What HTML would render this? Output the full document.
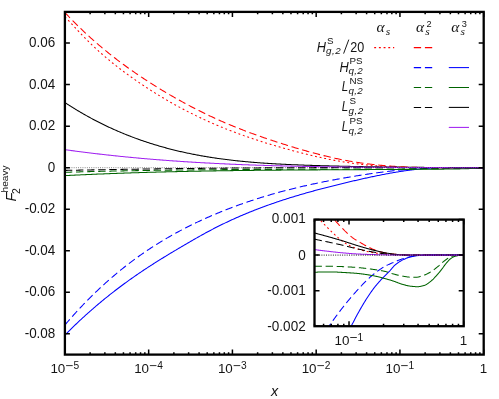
<!DOCTYPE html>
<html>
<head>
<meta charset="utf-8">
<title>F2 heavy</title>
<style>
html,body{margin:0;padding:0;background:#fff;}
body{width:499px;height:399px;overflow:hidden;position:relative;}
svg{display:block;position:absolute;left:0;top:0;}
svg.txt{will-change:transform;transform:translateZ(0);background:transparent;}
svg text{font-family:"Liberation Sans",sans-serif;fill:#141414;}
</style>
</head>
<body>
<svg width="499" height="399" viewBox="0 0 499 399">
<rect x="0" y="0" width="499" height="399" fill="#ffffff"/>
<defs>
<clipPath id="cm"><rect x="64.90" y="11.90" width="418.80" height="342.70"/></clipPath>
<clipPath id="ci"><rect x="314.50" y="219.60" width="149.20" height="106.60"/></clipPath>
</defs>
<!-- main curves -->
<g clip-path="url(#cm)" fill="none" stroke-width="1.05" stroke-linejoin="round">
<path d="M64.90 16.71 L65.90 17.76 L66.90 18.82 L67.90 19.89 L68.90 20.96 L69.90 22.03 L70.90 23.10 L71.90 24.18 L72.90 25.25 L73.90 26.33 L74.90 27.40 L75.89 28.47 L76.89 29.54 L77.89 30.61 L78.89 31.67 L79.89 32.73 L80.89 33.78 L81.89 34.83 L82.89 35.86 L83.89 36.90 L84.89 37.92 L85.89 38.93 L86.89 39.94 L87.89 40.93 L88.89 41.92 L89.89 42.90 L90.89 43.87 L91.89 44.83 L92.89 45.78 L93.89 46.73 L94.89 47.66 L95.89 48.59 L96.88 49.51 L97.88 50.42 L98.88 51.33 L99.88 52.23 L100.88 53.12 L101.88 54.00 L102.88 54.87 L103.88 55.74 L104.88 56.60 L105.88 57.45 L106.88 58.30 L107.88 59.14 L108.88 59.97 L109.88 60.80 L110.88 61.62 L111.88 62.43 L112.88 63.24 L113.88 64.04 L114.88 64.84 L115.88 65.63 L116.88 66.41 L117.87 67.19 L118.87 67.96 L119.87 68.73 L120.87 69.49 L121.87 70.25 L122.87 71.00 L123.87 71.75 L124.87 72.49 L125.87 73.22 L126.87 73.96 L127.87 74.68 L128.87 75.41 L129.87 76.13 L130.87 76.84 L131.87 77.55 L132.87 78.26 L133.87 78.96 L134.87 79.66 L135.87 80.35 L136.87 81.04 L137.87 81.73 L138.86 82.42 L139.86 83.10 L140.86 83.77 L141.86 84.45 L142.86 85.11 L143.86 85.78 L144.86 86.44 L145.86 87.10 L146.86 87.76 L147.86 88.41 L148.86 89.06 L149.86 89.70 L150.86 90.34 L151.86 90.98 L152.86 91.61 L153.86 92.24 L154.86 92.87 L155.86 93.49 L156.86 94.11 L157.86 94.73 L158.86 95.34 L159.85 95.95 L160.85 96.55 L161.85 97.16 L162.85 97.75 L163.85 98.35 L164.85 98.94 L165.85 99.53 L166.85 100.11 L167.85 100.70 L168.85 101.27 L169.85 101.85 L170.85 102.42 L171.85 102.99 L172.85 103.55 L173.85 104.11 L174.85 104.67 L175.85 105.23 L176.85 105.78 L177.85 106.32 L178.85 106.87 L179.85 107.41 L180.84 107.95 L181.84 108.48 L182.84 109.01 L183.84 109.54 L184.84 110.07 L185.84 110.59 L186.84 111.11 L187.84 111.62 L188.84 112.13 L189.84 112.64 L190.84 113.15 L191.84 113.65 L192.84 114.15 L193.84 114.64 L194.84 115.13 L195.84 115.62 L196.84 116.11 L197.84 116.59 L198.84 117.07 L199.84 117.55 L200.84 118.02 L201.83 118.49 L202.83 118.96 L203.83 119.42 L204.83 119.88 L205.83 120.34 L206.83 120.80 L207.83 121.25 L208.83 121.70 L209.83 122.14 L210.83 122.58 L211.83 123.02 L212.83 123.46 L213.83 123.89 L214.83 124.32 L215.83 124.75 L216.83 125.18 L217.83 125.60 L218.83 126.02 L219.83 126.43 L220.83 126.85 L221.83 127.26 L222.82 127.66 L223.82 128.07 L224.82 128.47 L225.82 128.87 L226.82 129.27 L227.82 129.66 L228.82 130.05 L229.82 130.44 L230.82 130.83 L231.82 131.21 L232.82 131.59 L233.82 131.97 L234.82 132.34 L235.82 132.72 L236.82 133.09 L237.82 133.46 L238.82 133.82 L239.82 134.19 L240.82 134.55 L241.82 134.91 L242.82 135.26 L243.81 135.62 L244.81 135.97 L245.81 136.32 L246.81 136.67 L247.81 137.01 L248.81 137.36 L249.81 137.70 L250.81 138.04 L251.81 138.37 L252.81 138.71 L253.81 139.04 L254.81 139.37 L255.81 139.70 L256.81 140.03 L257.81 140.35 L258.81 140.68 L259.81 141.00 L260.81 141.32 L261.81 141.63 L262.81 141.95 L263.81 142.26 L264.80 142.58 L265.80 142.89 L266.80 143.19 L267.80 143.50 L268.80 143.81 L269.80 144.11 L270.80 144.41 L271.80 144.71 L272.80 145.01 L273.80 145.31 L274.80 145.60 L275.80 145.89 L276.80 146.19 L277.80 146.48 L278.80 146.77 L279.80 147.06 L280.80 147.34 L281.80 147.63 L282.80 147.91 L283.80 148.19 L284.79 148.47 L285.79 148.75 L286.79 149.03 L287.79 149.31 L288.79 149.58 L289.79 149.86 L290.79 150.13 L291.79 150.40 L292.79 150.67 L293.79 150.94 L294.79 151.21 L295.79 151.47 L296.79 151.74 L297.79 152.00 L298.79 152.26 L299.79 152.52 L300.79 152.78 L301.79 153.03 L302.79 153.29 L303.79 153.54 L304.79 153.79 L305.78 154.04 L306.78 154.29 L307.78 154.53 L308.78 154.77 L309.78 155.02 L310.78 155.26 L311.78 155.49 L312.78 155.73 L313.78 155.96 L314.78 156.19 L315.78 156.42 L316.78 156.65 L317.78 156.88 L318.78 157.10 L319.78 157.32 L320.78 157.54 L321.78 157.76 L322.78 157.97 L323.78 158.19 L324.78 158.40 L325.78 158.61 L326.77 158.81 L327.77 159.02 L328.77 159.22 L329.77 159.42 L330.77 159.61 L331.77 159.81 L332.77 160.00 L333.77 160.19 L334.77 160.38 L335.77 160.56 L336.77 160.74 L337.77 160.92 L338.77 161.10 L339.77 161.27 L340.77 161.44 L341.77 161.61 L342.77 161.78 L343.77 161.94 L344.77 162.10 L345.77 162.26 L346.77 162.42 L347.76 162.57 L348.76 162.72 L349.76 162.87 L350.76 163.01 L351.76 163.15 L352.76 163.29 L353.76 163.43 L354.76 163.56 L355.76 163.69 L356.76 163.82 L357.76 163.94 L358.76 164.06 L359.76 164.18 L360.76 164.30 L361.76 164.41 L362.76 164.53 L363.76 164.63 L364.76 164.74 L365.76 164.85 L366.76 164.95 L367.76 165.05 L368.75 165.14 L369.75 165.24 L370.75 165.33 L371.75 165.42 L372.75 165.51 L373.75 165.60 L374.75 165.68 L375.75 165.76 L376.75 165.84 L377.75 165.92 L378.75 165.99 L379.75 166.06 L380.75 166.13 L381.75 166.20 L382.75 166.27 L383.75 166.34 L384.75 166.40 L385.75 166.46 L386.75 166.52 L387.75 166.58 L388.75 166.63 L389.74 166.69 L390.74 166.74 L391.74 166.79 L392.74 166.84 L393.74 166.88 L394.74 166.93 L395.74 166.97 L396.74 167.01 L397.74 167.06 L398.74 167.09 L399.74 167.13 L400.74 167.17 L401.74 167.20 L402.74 167.24 L403.74 167.27 L404.74 167.30 L405.74 167.33 L406.74 167.35 L407.74 167.38 L408.74 167.41 L409.74 167.43 L410.73 167.45 L411.73 167.47 L412.73 167.49 L413.73 167.51 L414.73 167.53 L415.73 167.55 L416.73 167.57 L417.73 167.58 L418.73 167.59 L419.73 167.61 L420.73 167.62 L421.73 167.63 L422.73 167.64 L423.73 167.65 L424.73 167.66 L425.73 167.67 L426.73 167.68 L427.73 167.68 L428.73 167.69 L429.73 167.69 L430.73 167.70 L431.72 167.70 L432.72 167.71 L433.72 167.71 L434.72 167.71 L435.72 167.71 L436.72 167.71 L437.72 167.71 L438.72 167.72 L439.72 167.72 L440.72 167.72 L441.72 167.71 L442.72 167.71 L443.72 167.71 L444.72 167.71 L445.72 167.71 L446.72 167.71 L447.72 167.71 L448.72 167.70 L449.72 167.70 L450.72 167.70 L451.72 167.70 L452.71 167.69 L453.71 167.69 L454.71 167.69 L455.71 167.69 L456.71 167.68 L457.71 167.68 L458.71 167.68 L459.71 167.68 L460.71 167.68 L461.71 167.67 L462.71 167.67 L463.71 167.67 L464.71 167.67 L465.71 167.67 L466.71 167.67 L467.71 167.67 L468.71 167.67 L469.71 167.67 L470.71 167.68 L471.71 167.68 L472.71 167.68 L473.70 167.68 L474.70 167.69 L475.70 167.69 L476.70 167.70 L477.70 167.70 L478.70 167.71 L479.70 167.72 L480.70 167.73 L481.70 167.73 L482.70 167.74 L483.70 167.75" stroke="#ff0000" stroke-dasharray="1.9 2.8"/>
<path d="M64.90 12.54 L65.90 13.60 L66.90 14.66 L67.90 15.71 L68.90 16.75 L69.90 17.79 L70.90 18.82 L71.90 19.84 L72.90 20.86 L73.90 21.87 L74.90 22.87 L75.89 23.86 L76.89 24.85 L77.89 25.83 L78.89 26.81 L79.89 27.78 L80.89 28.74 L81.89 29.70 L82.89 30.65 L83.89 31.59 L84.89 32.53 L85.89 33.46 L86.89 34.38 L87.89 35.30 L88.89 36.22 L89.89 37.12 L90.89 38.02 L91.89 38.92 L92.89 39.81 L93.89 40.69 L94.89 41.57 L95.89 42.44 L96.88 43.31 L97.88 44.17 L98.88 45.03 L99.88 45.88 L100.88 46.72 L101.88 47.56 L102.88 48.40 L103.88 49.23 L104.88 50.05 L105.88 50.87 L106.88 51.68 L107.88 52.49 L108.88 53.29 L109.88 54.09 L110.88 54.89 L111.88 55.68 L112.88 56.46 L113.88 57.24 L114.88 58.02 L115.88 58.79 L116.88 59.55 L117.87 60.32 L118.87 61.07 L119.87 61.83 L120.87 62.57 L121.87 63.32 L122.87 64.06 L123.87 64.79 L124.87 65.53 L125.87 66.25 L126.87 66.98 L127.87 67.70 L128.87 68.41 L129.87 69.13 L130.87 69.83 L131.87 70.54 L132.87 71.24 L133.87 71.94 L134.87 72.63 L135.87 73.32 L136.87 74.01 L137.87 74.69 L138.86 75.37 L139.86 76.05 L140.86 76.72 L141.86 77.39 L142.86 78.05 L143.86 78.72 L144.86 79.38 L145.86 80.03 L146.86 80.68 L147.86 81.33 L148.86 81.98 L149.86 82.62 L150.86 83.26 L151.86 83.90 L152.86 84.53 L153.86 85.16 L154.86 85.79 L155.86 86.41 L156.86 87.03 L157.86 87.65 L158.86 88.27 L159.85 88.88 L160.85 89.49 L161.85 90.09 L162.85 90.69 L163.85 91.29 L164.85 91.89 L165.85 92.48 L166.85 93.08 L167.85 93.66 L168.85 94.25 L169.85 94.83 L170.85 95.41 L171.85 95.99 L172.85 96.56 L173.85 97.13 L174.85 97.70 L175.85 98.26 L176.85 98.83 L177.85 99.39 L178.85 99.94 L179.85 100.50 L180.84 101.05 L181.84 101.60 L182.84 102.15 L183.84 102.69 L184.84 103.23 L185.84 103.77 L186.84 104.31 L187.84 104.84 L188.84 105.38 L189.84 105.90 L190.84 106.43 L191.84 106.95 L192.84 107.47 L193.84 107.99 L194.84 108.51 L195.84 109.02 L196.84 109.53 L197.84 110.04 L198.84 110.54 L199.84 111.05 L200.84 111.54 L201.83 112.04 L202.83 112.53 L203.83 113.02 L204.83 113.51 L205.83 114.00 L206.83 114.48 L207.83 114.96 L208.83 115.43 L209.83 115.91 L210.83 116.38 L211.83 116.84 L212.83 117.31 L213.83 117.77 L214.83 118.23 L215.83 118.68 L216.83 119.14 L217.83 119.59 L218.83 120.03 L219.83 120.48 L220.83 120.92 L221.83 121.36 L222.82 121.79 L223.82 122.23 L224.82 122.66 L225.82 123.09 L226.82 123.51 L227.82 123.93 L228.82 124.36 L229.82 124.77 L230.82 125.19 L231.82 125.60 L232.82 126.01 L233.82 126.42 L234.82 126.83 L235.82 127.23 L236.82 127.63 L237.82 128.03 L238.82 128.43 L239.82 128.82 L240.82 129.21 L241.82 129.60 L242.82 129.99 L243.81 130.37 L244.81 130.76 L245.81 131.14 L246.81 131.52 L247.81 131.89 L248.81 132.27 L249.81 132.64 L250.81 133.01 L251.81 133.38 L252.81 133.74 L253.81 134.11 L254.81 134.47 L255.81 134.83 L256.81 135.19 L257.81 135.55 L258.81 135.90 L259.81 136.25 L260.81 136.61 L261.81 136.96 L262.81 137.30 L263.81 137.65 L264.80 137.99 L265.80 138.34 L266.80 138.68 L267.80 139.02 L268.80 139.35 L269.80 139.69 L270.80 140.03 L271.80 140.36 L272.80 140.69 L273.80 141.02 L274.80 141.35 L275.80 141.68 L276.80 142.00 L277.80 142.33 L278.80 142.65 L279.80 142.97 L280.80 143.29 L281.80 143.61 L282.80 143.93 L283.80 144.24 L284.79 144.56 L285.79 144.87 L286.79 145.18 L287.79 145.50 L288.79 145.81 L289.79 146.11 L290.79 146.42 L291.79 146.73 L292.79 147.03 L293.79 147.34 L294.79 147.64 L295.79 147.94 L296.79 148.24 L297.79 148.53 L298.79 148.83 L299.79 149.12 L300.79 149.42 L301.79 149.71 L302.79 150.00 L303.79 150.28 L304.79 150.57 L305.78 150.85 L306.78 151.13 L307.78 151.41 L308.78 151.69 L309.78 151.97 L310.78 152.24 L311.78 152.52 L312.78 152.79 L313.78 153.06 L314.78 153.32 L315.78 153.59 L316.78 153.85 L317.78 154.11 L318.78 154.37 L319.78 154.62 L320.78 154.88 L321.78 155.13 L322.78 155.38 L323.78 155.63 L324.78 155.87 L325.78 156.11 L326.77 156.35 L327.77 156.59 L328.77 156.83 L329.77 157.06 L330.77 157.29 L331.77 157.52 L332.77 157.74 L333.77 157.96 L334.77 158.18 L335.77 158.40 L336.77 158.62 L337.77 158.83 L338.77 159.04 L339.77 159.25 L340.77 159.45 L341.77 159.65 L342.77 159.85 L343.77 160.04 L344.77 160.24 L345.77 160.43 L346.77 160.61 L347.76 160.80 L348.76 160.98 L349.76 161.16 L350.76 161.33 L351.76 161.50 L352.76 161.67 L353.76 161.84 L354.76 162.00 L355.76 162.16 L356.76 162.32 L357.76 162.47 L358.76 162.62 L359.76 162.77 L360.76 162.91 L361.76 163.06 L362.76 163.20 L363.76 163.33 L364.76 163.47 L365.76 163.60 L366.76 163.73 L367.76 163.86 L368.75 163.98 L369.75 164.10 L370.75 164.22 L371.75 164.34 L372.75 164.45 L373.75 164.56 L374.75 164.67 L375.75 164.78 L376.75 164.88 L377.75 164.98 L378.75 165.08 L379.75 165.18 L380.75 165.27 L381.75 165.37 L382.75 165.46 L383.75 165.55 L384.75 165.63 L385.75 165.72 L386.75 165.80 L387.75 165.88 L388.75 165.95 L389.74 166.03 L390.74 166.10 L391.74 166.17 L392.74 166.24 L393.74 166.31 L394.74 166.38 L395.74 166.44 L396.74 166.50 L397.74 166.56 L398.74 166.62 L399.74 166.68 L400.74 166.73 L401.74 166.78 L402.74 166.83 L403.74 166.88 L404.74 166.93 L405.74 166.98 L406.74 167.02 L407.74 167.06 L408.74 167.11 L409.74 167.14 L410.73 167.18 L411.73 167.22 L412.73 167.25 L413.73 167.29 L414.73 167.32 L415.73 167.35 L416.73 167.38 L417.73 167.41 L418.73 167.44 L419.73 167.46 L420.73 167.49 L421.73 167.51 L422.73 167.53 L423.73 167.55 L424.73 167.57 L425.73 167.59 L426.73 167.61 L427.73 167.63 L428.73 167.64 L429.73 167.66 L430.73 167.67 L431.72 167.68 L432.72 167.69 L433.72 167.70 L434.72 167.71 L435.72 167.72 L436.72 167.73 L437.72 167.74 L438.72 167.74 L439.72 167.75 L440.72 167.75 L441.72 167.76 L442.72 167.76 L443.72 167.76 L444.72 167.76 L445.72 167.77 L446.72 167.77 L447.72 167.77 L448.72 167.77 L449.72 167.77 L450.72 167.77 L451.72 167.76 L452.71 167.76 L453.71 167.76 L454.71 167.76 L455.71 167.75 L456.71 167.75 L457.71 167.75 L458.71 167.74 L459.71 167.74 L460.71 167.73 L461.71 167.73 L462.71 167.72 L463.71 167.72 L464.71 167.71 L465.71 167.71 L466.71 167.70 L467.71 167.70 L468.71 167.69 L469.71 167.69 L470.71 167.68 L471.71 167.68 L472.71 167.67 L473.70 167.67 L474.70 167.66 L475.70 167.66 L476.70 167.65 L477.70 167.65 L478.70 167.64 L479.70 167.64 L480.70 167.63 L481.70 167.63 L482.70 167.63 L483.70 167.63" stroke="#ff0000" stroke-dasharray="7.4 3.7"/>
<path d="M64.90 324.96 L65.90 323.79 L66.90 322.63 L67.90 321.47 L68.90 320.32 L69.90 319.18 L70.90 318.05 L71.90 316.93 L72.90 315.81 L73.90 314.70 L74.90 313.59 L75.89 312.50 L76.89 311.40 L77.89 310.32 L78.89 309.25 L79.89 308.18 L80.89 307.11 L81.89 306.06 L82.89 305.01 L83.89 303.97 L84.89 302.93 L85.89 301.91 L86.89 300.88 L87.89 299.87 L88.89 298.86 L89.89 297.86 L90.89 296.87 L91.89 295.88 L92.89 294.90 L93.89 293.92 L94.89 292.95 L95.89 291.99 L96.88 291.03 L97.88 290.08 L98.88 289.14 L99.88 288.20 L100.88 287.27 L101.88 286.35 L102.88 285.43 L103.88 284.52 L104.88 283.61 L105.88 282.72 L106.88 281.82 L107.88 280.93 L108.88 280.05 L109.88 279.18 L110.88 278.31 L111.88 277.44 L112.88 276.59 L113.88 275.74 L114.88 274.89 L115.88 274.05 L116.88 273.21 L117.87 272.39 L118.87 271.56 L119.87 270.75 L120.87 269.93 L121.87 269.13 L122.87 268.33 L123.87 267.53 L124.87 266.74 L125.87 265.96 L126.87 265.18 L127.87 264.41 L128.87 263.64 L129.87 262.88 L130.87 262.12 L131.87 261.37 L132.87 260.63 L133.87 259.88 L134.87 259.15 L135.87 258.42 L136.87 257.69 L137.87 256.97 L138.86 256.26 L139.86 255.55 L140.86 254.84 L141.86 254.14 L142.86 253.45 L143.86 252.76 L144.86 252.07 L145.86 251.39 L146.86 250.71 L147.86 250.04 L148.86 249.38 L149.86 248.71 L150.86 248.06 L151.86 247.41 L152.86 246.76 L153.86 246.11 L154.86 245.48 L155.86 244.84 L156.86 244.21 L157.86 243.59 L158.86 242.97 L159.85 242.35 L160.85 241.74 L161.85 241.13 L162.85 240.53 L163.85 239.93 L164.85 239.34 L165.85 238.74 L166.85 238.16 L167.85 237.58 L168.85 237.00 L169.85 236.43 L170.85 235.86 L171.85 235.29 L172.85 234.73 L173.85 234.17 L174.85 233.62 L175.85 233.07 L176.85 232.52 L177.85 231.98 L178.85 231.44 L179.85 230.90 L180.84 230.37 L181.84 229.85 L182.84 229.32 L183.84 228.80 L184.84 228.29 L185.84 227.77 L186.84 227.26 L187.84 226.76 L188.84 226.26 L189.84 225.76 L190.84 225.26 L191.84 224.77 L192.84 224.28 L193.84 223.80 L194.84 223.31 L195.84 222.84 L196.84 222.36 L197.84 221.89 L198.84 221.42 L199.84 220.95 L200.84 220.49 L201.83 220.03 L202.83 219.57 L203.83 219.12 L204.83 218.67 L205.83 218.22 L206.83 217.78 L207.83 217.33 L208.83 216.90 L209.83 216.46 L210.83 216.02 L211.83 215.59 L212.83 215.17 L213.83 214.74 L214.83 214.32 L215.83 213.90 L216.83 213.48 L217.83 213.07 L218.83 212.65 L219.83 212.25 L220.83 211.84 L221.83 211.43 L222.82 211.03 L223.82 210.63 L224.82 210.24 L225.82 209.85 L226.82 209.45 L227.82 209.07 L228.82 208.68 L229.82 208.30 L230.82 207.92 L231.82 207.54 L232.82 207.16 L233.82 206.79 L234.82 206.42 L235.82 206.05 L236.82 205.68 L237.82 205.32 L238.82 204.96 L239.82 204.60 L240.82 204.25 L241.82 203.89 L242.82 203.54 L243.81 203.19 L244.81 202.84 L245.81 202.50 L246.81 202.16 L247.81 201.82 L248.81 201.48 L249.81 201.15 L250.81 200.81 L251.81 200.48 L252.81 200.15 L253.81 199.83 L254.81 199.50 L255.81 199.18 L256.81 198.86 L257.81 198.55 L258.81 198.23 L259.81 197.92 L260.81 197.61 L261.81 197.30 L262.81 196.99 L263.81 196.69 L264.80 196.39 L265.80 196.09 L266.80 195.79 L267.80 195.49 L268.80 195.20 L269.80 194.90 L270.80 194.61 L271.80 194.33 L272.80 194.04 L273.80 193.76 L274.80 193.47 L275.80 193.19 L276.80 192.92 L277.80 192.64 L278.80 192.37 L279.80 192.09 L280.80 191.82 L281.80 191.55 L282.80 191.29 L283.80 191.02 L284.79 190.76 L285.79 190.50 L286.79 190.24 L287.79 189.98 L288.79 189.73 L289.79 189.47 L290.79 189.22 L291.79 188.97 L292.79 188.72 L293.79 188.47 L294.79 188.23 L295.79 187.98 L296.79 187.74 L297.79 187.50 L298.79 187.26 L299.79 187.03 L300.79 186.79 L301.79 186.56 L302.79 186.33 L303.79 186.10 L304.79 185.87 L305.78 185.64 L306.78 185.41 L307.78 185.19 L308.78 184.97 L309.78 184.75 L310.78 184.53 L311.78 184.31 L312.78 184.09 L313.78 183.88 L314.78 183.66 L315.78 183.45 L316.78 183.24 L317.78 183.03 L318.78 182.82 L319.78 182.62 L320.78 182.41 L321.78 182.21 L322.78 182.01 L323.78 181.81 L324.78 181.61 L325.78 181.41 L326.77 181.21 L327.77 181.02 L328.77 180.82 L329.77 180.63 L330.77 180.44 L331.77 180.25 L332.77 180.06 L333.77 179.87 L334.77 179.68 L335.77 179.50 L336.77 179.31 L337.77 179.13 L338.77 178.95 L339.77 178.77 L340.77 178.59 L341.77 178.41 L342.77 178.23 L343.77 178.05 L344.77 177.88 L345.77 177.70 L346.77 177.53 L347.76 177.36 L348.76 177.19 L349.76 177.02 L350.76 176.85 L351.76 176.68 L352.76 176.51 L353.76 176.35 L354.76 176.18 L355.76 176.02 L356.76 175.85 L357.76 175.69 L358.76 175.53 L359.76 175.37 L360.76 175.21 L361.76 175.06 L362.76 174.90 L363.76 174.74 L364.76 174.59 L365.76 174.44 L366.76 174.29 L367.76 174.14 L368.75 173.99 L369.75 173.84 L370.75 173.70 L371.75 173.55 L372.75 173.41 L373.75 173.27 L374.75 173.12 L375.75 172.99 L376.75 172.85 L377.75 172.71 L378.75 172.58 L379.75 172.44 L380.75 172.31 L381.75 172.18 L382.75 172.05 L383.75 171.92 L384.75 171.79 L385.75 171.67 L386.75 171.55 L387.75 171.42 L388.75 171.30 L389.74 171.18 L390.74 171.07 L391.74 170.95 L392.74 170.84 L393.74 170.72 L394.74 170.61 L395.74 170.50 L396.74 170.40 L397.74 170.29 L398.74 170.19 L399.74 170.08 L400.74 169.98 L401.74 169.88 L402.74 169.79 L403.74 169.69 L404.74 169.60 L405.74 169.51 L406.74 169.42 L407.74 169.33 L408.74 169.24 L409.74 169.16 L410.73 169.07 L411.73 168.99 L412.73 168.91 L413.73 168.84 L414.73 168.76 L415.73 168.69 L416.73 168.62 L417.73 168.55 L418.73 168.48 L419.73 168.41 L420.73 168.35 L421.73 168.29 L422.73 168.23 L423.73 168.17 L424.73 168.12 L425.73 168.06 L426.73 168.01 L427.73 167.96 L428.73 167.92 L429.73 167.87 L430.73 167.83 L431.72 167.79 L432.72 167.75 L433.72 167.71 L434.72 167.68 L435.72 167.65 L436.72 167.62 L437.72 167.59 L438.72 167.56 L439.72 167.54 L440.72 167.52 L441.72 167.50 L442.72 167.49 L443.72 167.47 L444.72 167.46 L445.72 167.45 L446.72 167.44 L447.72 167.44 L448.72 167.43 L449.72 167.43 L450.72 167.43 L451.72 167.43 L452.71 167.44 L453.71 167.44 L454.71 167.45 L455.71 167.46 L456.71 167.47 L457.71 167.48 L458.71 167.49 L459.71 167.51 L460.71 167.53 L461.71 167.55 L462.71 167.57 L463.71 167.59 L464.71 167.61 L465.71 167.64 L466.71 167.67 L467.71 167.70 L468.71 167.73 L469.71 167.76 L470.71 167.79 L471.71 167.82 L472.71 167.86 L473.70 167.90 L474.70 167.93 L475.70 167.97 L476.70 168.01 L477.70 168.06 L478.70 168.10 L479.70 168.14 L480.70 168.19 L481.70 168.23 L482.70 168.28 L483.70 168.33" stroke="#0000ff" stroke-dasharray="7.4 3.7"/>
<path d="M64.90 335.05 L65.90 334.04 L66.90 333.04 L67.90 332.04 L68.90 331.05 L69.90 330.06 L70.90 329.08 L71.90 328.10 L72.90 327.13 L73.90 326.16 L74.90 325.20 L75.89 324.25 L76.89 323.30 L77.89 322.35 L78.89 321.41 L79.89 320.48 L80.89 319.55 L81.89 318.63 L82.89 317.71 L83.89 316.79 L84.89 315.88 L85.89 314.98 L86.89 314.08 L87.89 313.19 L88.89 312.30 L89.89 311.41 L90.89 310.53 L91.89 309.66 L92.89 308.79 L93.89 307.92 L94.89 307.06 L95.89 306.20 L96.88 305.35 L97.88 304.51 L98.88 303.66 L99.88 302.83 L100.88 301.99 L101.88 301.16 L102.88 300.34 L103.88 299.52 L104.88 298.71 L105.88 297.89 L106.88 297.09 L107.88 296.29 L108.88 295.49 L109.88 294.69 L110.88 293.91 L111.88 293.12 L112.88 292.34 L113.88 291.56 L114.88 290.79 L115.88 290.02 L116.88 289.26 L117.87 288.50 L118.87 287.74 L119.87 286.99 L120.87 286.24 L121.87 285.50 L122.87 284.76 L123.87 284.02 L124.87 283.29 L125.87 282.56 L126.87 281.83 L127.87 281.11 L128.87 280.40 L129.87 279.68 L130.87 278.97 L131.87 278.27 L132.87 277.56 L133.87 276.86 L134.87 276.17 L135.87 275.48 L136.87 274.79 L137.87 274.10 L138.86 273.42 L139.86 272.74 L140.86 272.07 L141.86 271.40 L142.86 270.73 L143.86 270.06 L144.86 269.40 L145.86 268.74 L146.86 268.08 L147.86 267.43 L148.86 266.78 L149.86 266.13 L150.86 265.48 L151.86 264.84 L152.86 264.20 L153.86 263.56 L154.86 262.93 L155.86 262.30 L156.86 261.67 L157.86 261.04 L158.86 260.41 L159.85 259.79 L160.85 259.17 L161.85 258.55 L162.85 257.93 L163.85 257.32 L164.85 256.71 L165.85 256.09 L166.85 255.49 L167.85 254.88 L168.85 254.27 L169.85 253.67 L170.85 253.07 L171.85 252.47 L172.85 251.87 L173.85 251.27 L174.85 250.67 L175.85 250.08 L176.85 249.48 L177.85 248.89 L178.85 248.30 L179.85 247.71 L180.84 247.12 L181.84 246.53 L182.84 245.95 L183.84 245.36 L184.84 244.77 L185.84 244.19 L186.84 243.61 L187.84 243.02 L188.84 242.44 L189.84 241.86 L190.84 241.28 L191.84 240.70 L192.84 240.13 L193.84 239.55 L194.84 238.98 L195.84 238.41 L196.84 237.84 L197.84 237.28 L198.84 236.71 L199.84 236.15 L200.84 235.59 L201.83 235.03 L202.83 234.48 L203.83 233.93 L204.83 233.38 L205.83 232.83 L206.83 232.29 L207.83 231.75 L208.83 231.22 L209.83 230.68 L210.83 230.16 L211.83 229.63 L212.83 229.11 L213.83 228.59 L214.83 228.07 L215.83 227.56 L216.83 227.06 L217.83 226.55 L218.83 226.05 L219.83 225.55 L220.83 225.06 L221.83 224.57 L222.82 224.08 L223.82 223.60 L224.82 223.12 L225.82 222.64 L226.82 222.16 L227.82 221.69 L228.82 221.22 L229.82 220.76 L230.82 220.30 L231.82 219.84 L232.82 219.38 L233.82 218.93 L234.82 218.48 L235.82 218.04 L236.82 217.59 L237.82 217.15 L238.82 216.71 L239.82 216.28 L240.82 215.85 L241.82 215.42 L242.82 215.00 L243.81 214.57 L244.81 214.15 L245.81 213.74 L246.81 213.32 L247.81 212.91 L248.81 212.50 L249.81 212.10 L250.81 211.69 L251.81 211.29 L252.81 210.89 L253.81 210.50 L254.81 210.11 L255.81 209.72 L256.81 209.33 L257.81 208.95 L258.81 208.56 L259.81 208.18 L260.81 207.81 L261.81 207.43 L262.81 207.06 L263.81 206.69 L264.80 206.32 L265.80 205.96 L266.80 205.60 L267.80 205.24 L268.80 204.88 L269.80 204.52 L270.80 204.17 L271.80 203.82 L272.80 203.47 L273.80 203.13 L274.80 202.78 L275.80 202.44 L276.80 202.10 L277.80 201.76 L278.80 201.43 L279.80 201.09 L280.80 200.76 L281.80 200.43 L282.80 200.11 L283.80 199.78 L284.79 199.46 L285.79 199.14 L286.79 198.82 L287.79 198.50 L288.79 198.18 L289.79 197.87 L290.79 197.56 L291.79 197.25 L292.79 196.94 L293.79 196.64 L294.79 196.33 L295.79 196.03 L296.79 195.73 L297.79 195.43 L298.79 195.13 L299.79 194.84 L300.79 194.54 L301.79 194.25 L302.79 193.96 L303.79 193.67 L304.79 193.38 L305.78 193.10 L306.78 192.81 L307.78 192.53 L308.78 192.25 L309.78 191.97 L310.78 191.69 L311.78 191.42 L312.78 191.14 L313.78 190.87 L314.78 190.59 L315.78 190.32 L316.78 190.05 L317.78 189.79 L318.78 189.52 L319.78 189.25 L320.78 188.99 L321.78 188.72 L322.78 188.46 L323.78 188.20 L324.78 187.94 L325.78 187.68 L326.77 187.43 L327.77 187.17 L328.77 186.92 L329.77 186.66 L330.77 186.41 L331.77 186.16 L332.77 185.91 L333.77 185.66 L334.77 185.41 L335.77 185.16 L336.77 184.92 L337.77 184.67 L338.77 184.42 L339.77 184.18 L340.77 183.94 L341.77 183.70 L342.77 183.45 L343.77 183.21 L344.77 182.97 L345.77 182.74 L346.77 182.50 L347.76 182.26 L348.76 182.02 L349.76 181.79 L350.76 181.55 L351.76 181.32 L352.76 181.09 L353.76 180.85 L354.76 180.62 L355.76 180.39 L356.76 180.16 L357.76 179.93 L358.76 179.70 L359.76 179.47 L360.76 179.25 L361.76 179.02 L362.76 178.80 L363.76 178.57 L364.76 178.35 L365.76 178.13 L366.76 177.91 L367.76 177.69 L368.75 177.48 L369.75 177.26 L370.75 177.05 L371.75 176.83 L372.75 176.62 L373.75 176.41 L374.75 176.20 L375.75 176.00 L376.75 175.79 L377.75 175.59 L378.75 175.39 L379.75 175.19 L380.75 174.99 L381.75 174.79 L382.75 174.60 L383.75 174.40 L384.75 174.21 L385.75 174.02 L386.75 173.83 L387.75 173.65 L388.75 173.47 L389.74 173.28 L390.74 173.10 L391.74 172.93 L392.74 172.75 L393.74 172.58 L394.74 172.41 L395.74 172.24 L396.74 172.07 L397.74 171.91 L398.74 171.75 L399.74 171.59 L400.74 171.43 L401.74 171.28 L402.74 171.13 L403.74 170.98 L404.74 170.83 L405.74 170.69 L406.74 170.55 L407.74 170.41 L408.74 170.27 L409.74 170.14 L410.73 170.01 L411.73 169.88 L412.73 169.76 L413.73 169.64 L414.73 169.52 L415.73 169.40 L416.73 169.29 L417.73 169.18 L418.73 169.07 L419.73 168.97 L420.73 168.87 L421.73 168.77 L422.73 168.68 L423.73 168.59 L424.73 168.50 L425.73 168.42 L426.73 168.33 L427.73 168.26 L428.73 168.18 L429.73 168.11 L430.73 168.05 L431.72 167.98 L432.72 167.92 L433.72 167.87 L434.72 167.81 L435.72 167.76 L436.72 167.72 L437.72 167.68 L438.72 167.64 L439.72 167.60 L440.72 167.57 L441.72 167.55 L442.72 167.53 L443.72 167.51 L444.72 167.49 L445.72 167.48 L446.72 167.47 L447.72 167.47 L448.72 167.47 L449.72 167.47 L450.72 167.47 L451.72 167.48 L452.71 167.48 L453.71 167.49 L454.71 167.51 L455.71 167.52 L456.71 167.54 L457.71 167.55 L458.71 167.57 L459.71 167.59 L460.71 167.61 L461.71 167.63 L462.71 167.65 L463.71 167.67 L464.71 167.69 L465.71 167.71 L466.71 167.73 L467.71 167.75 L468.71 167.76 L469.71 167.78 L470.71 167.80 L471.71 167.81 L472.71 167.83 L473.70 167.84 L474.70 167.85 L475.70 167.85 L476.70 167.86 L477.70 167.86 L478.70 167.86 L479.70 167.86 L480.70 167.85 L481.70 167.84 L482.70 167.83 L483.70 167.82" stroke="#0000ff"/>
<path d="M64.90 172.31 L65.90 172.28 L66.90 172.25 L67.90 172.22 L68.90 172.19 L69.90 172.16 L70.90 172.13 L71.90 172.10 L72.90 172.07 L73.90 172.04 L74.90 172.01 L75.89 171.99 L76.89 171.96 L77.89 171.93 L78.89 171.90 L79.89 171.88 L80.89 171.85 L81.89 171.82 L82.89 171.80 L83.89 171.77 L84.89 171.74 L85.89 171.72 L86.89 171.69 L87.89 171.66 L88.89 171.64 L89.89 171.61 L90.89 171.59 L91.89 171.56 L92.89 171.54 L93.89 171.51 L94.89 171.49 L95.89 171.47 L96.88 171.44 L97.88 171.42 L98.88 171.39 L99.88 171.37 L100.88 171.35 L101.88 171.32 L102.88 171.30 L103.88 171.28 L104.88 171.26 L105.88 171.23 L106.88 171.21 L107.88 171.19 L108.88 171.17 L109.88 171.15 L110.88 171.13 L111.88 171.10 L112.88 171.08 L113.88 171.06 L114.88 171.04 L115.88 171.02 L116.88 171.00 L117.87 170.98 L118.87 170.96 L119.87 170.94 L120.87 170.92 L121.87 170.90 L122.87 170.88 L123.87 170.86 L124.87 170.84 L125.87 170.82 L126.87 170.81 L127.87 170.79 L128.87 170.77 L129.87 170.75 L130.87 170.73 L131.87 170.71 L132.87 170.70 L133.87 170.68 L134.87 170.66 L135.87 170.64 L136.87 170.63 L137.87 170.61 L138.86 170.59 L139.86 170.58 L140.86 170.56 L141.86 170.54 L142.86 170.53 L143.86 170.51 L144.86 170.49 L145.86 170.48 L146.86 170.46 L147.86 170.45 L148.86 170.43 L149.86 170.42 L150.86 170.40 L151.86 170.39 L152.86 170.37 L153.86 170.36 L154.86 170.34 L155.86 170.33 L156.86 170.31 L157.86 170.30 L158.86 170.29 L159.85 170.27 L160.85 170.26 L161.85 170.25 L162.85 170.23 L163.85 170.22 L164.85 170.21 L165.85 170.19 L166.85 170.18 L167.85 170.17 L168.85 170.15 L169.85 170.14 L170.85 170.13 L171.85 170.12 L172.85 170.11 L173.85 170.09 L174.85 170.08 L175.85 170.07 L176.85 170.06 L177.85 170.05 L178.85 170.03 L179.85 170.02 L180.84 170.01 L181.84 170.00 L182.84 169.99 L183.84 169.98 L184.84 169.97 L185.84 169.96 L186.84 169.95 L187.84 169.94 L188.84 169.93 L189.84 169.92 L190.84 169.91 L191.84 169.90 L192.84 169.89 L193.84 169.88 L194.84 169.87 L195.84 169.86 L196.84 169.85 L197.84 169.84 L198.84 169.83 L199.84 169.82 L200.84 169.81 L201.83 169.80 L202.83 169.79 L203.83 169.79 L204.83 169.78 L205.83 169.77 L206.83 169.76 L207.83 169.75 L208.83 169.74 L209.83 169.74 L210.83 169.73 L211.83 169.72 L212.83 169.71 L213.83 169.70 L214.83 169.70 L215.83 169.69 L216.83 169.68 L217.83 169.67 L218.83 169.67 L219.83 169.66 L220.83 169.65 L221.83 169.65 L222.82 169.64 L223.82 169.63 L224.82 169.62 L225.82 169.62 L226.82 169.61 L227.82 169.60 L228.82 169.60 L229.82 169.59 L230.82 169.59 L231.82 169.58 L232.82 169.57 L233.82 169.57 L234.82 169.56 L235.82 169.55 L236.82 169.55 L237.82 169.54 L238.82 169.54 L239.82 169.53 L240.82 169.53 L241.82 169.52 L242.82 169.51 L243.81 169.51 L244.81 169.50 L245.81 169.50 L246.81 169.49 L247.81 169.49 L248.81 169.48 L249.81 169.48 L250.81 169.47 L251.81 169.47 L252.81 169.46 L253.81 169.46 L254.81 169.45 L255.81 169.45 L256.81 169.44 L257.81 169.44 L258.81 169.43 L259.81 169.43 L260.81 169.43 L261.81 169.42 L262.81 169.42 L263.81 169.41 L264.80 169.41 L265.80 169.40 L266.80 169.40 L267.80 169.40 L268.80 169.39 L269.80 169.39 L270.80 169.38 L271.80 169.38 L272.80 169.38 L273.80 169.37 L274.80 169.37 L275.80 169.36 L276.80 169.36 L277.80 169.36 L278.80 169.35 L279.80 169.35 L280.80 169.35 L281.80 169.34 L282.80 169.34 L283.80 169.33 L284.79 169.33 L285.79 169.33 L286.79 169.32 L287.79 169.32 L288.79 169.32 L289.79 169.31 L290.79 169.31 L291.79 169.31 L292.79 169.30 L293.79 169.30 L294.79 169.30 L295.79 169.29 L296.79 169.29 L297.79 169.29 L298.79 169.28 L299.79 169.28 L300.79 169.28 L301.79 169.28 L302.79 169.27 L303.79 169.27 L304.79 169.27 L305.78 169.26 L306.78 169.26 L307.78 169.26 L308.78 169.25 L309.78 169.25 L310.78 169.25 L311.78 169.24 L312.78 169.24 L313.78 169.24 L314.78 169.24 L315.78 169.23 L316.78 169.23 L317.78 169.23 L318.78 169.22 L319.78 169.22 L320.78 169.22 L321.78 169.21 L322.78 169.21 L323.78 169.21 L324.78 169.21 L325.78 169.20 L326.77 169.20 L327.77 169.20 L328.77 169.19 L329.77 169.19 L330.77 169.19 L331.77 169.18 L332.77 169.18 L333.77 169.18 L334.77 169.18 L335.77 169.17 L336.77 169.17 L337.77 169.17 L338.77 169.16 L339.77 169.16 L340.77 169.16 L341.77 169.15 L342.77 169.15 L343.77 169.15 L344.77 169.14 L345.77 169.14 L346.77 169.14 L347.76 169.13 L348.76 169.13 L349.76 169.13 L350.76 169.12 L351.76 169.12 L352.76 169.12 L353.76 169.11 L354.76 169.11 L355.76 169.11 L356.76 169.10 L357.76 169.10 L358.76 169.10 L359.76 169.09 L360.76 169.09 L361.76 169.08 L362.76 169.08 L363.76 169.08 L364.76 169.07 L365.76 169.07 L366.76 169.07 L367.76 169.06 L368.75 169.06 L369.75 169.05 L370.75 169.05 L371.75 169.05 L372.75 169.04 L373.75 169.04 L374.75 169.03 L375.75 169.03 L376.75 169.02 L377.75 169.02 L378.75 169.02 L379.75 169.01 L380.75 169.01 L381.75 169.00 L382.75 169.00 L383.75 168.99 L384.75 168.99 L385.75 168.98 L386.75 168.98 L387.75 168.97 L388.75 168.97 L389.74 168.96 L390.74 168.96 L391.74 168.95 L392.74 168.95 L393.74 168.94 L394.74 168.94 L395.74 168.93 L396.74 168.93 L397.74 168.92 L398.74 168.92 L399.74 168.91 L400.74 168.90 L401.74 168.90 L402.74 168.89 L403.74 168.89 L404.74 168.88 L405.74 168.87 L406.74 168.87 L407.74 168.86 L408.74 168.86 L409.74 168.85 L410.73 168.84 L411.73 168.84 L412.73 168.83 L413.73 168.82 L414.73 168.82 L415.73 168.81 L416.73 168.80 L417.73 168.80 L418.73 168.79 L419.73 168.78 L420.73 168.77 L421.73 168.77 L422.73 168.76 L423.73 168.75 L424.73 168.74 L425.73 168.74 L426.73 168.73 L427.73 168.72 L428.73 168.71 L429.73 168.71 L430.73 168.70 L431.72 168.69 L432.72 168.68 L433.72 168.67 L434.72 168.66 L435.72 168.66 L436.72 168.65 L437.72 168.64 L438.72 168.63 L439.72 168.62 L440.72 168.61 L441.72 168.60 L442.72 168.59 L443.72 168.58 L444.72 168.57 L445.72 168.56 L446.72 168.55 L447.72 168.54 L448.72 168.53 L449.72 168.52 L450.72 168.51 L451.72 168.50 L452.71 168.49 L453.71 168.48 L454.71 168.47 L455.71 168.46 L456.71 168.45 L457.71 168.44 L458.71 168.43 L459.71 168.41 L460.71 168.40 L461.71 168.39 L462.71 168.38 L463.71 168.37 L464.71 168.35 L465.71 168.34 L466.71 168.33 L467.71 168.32 L468.71 168.30 L469.71 168.29 L470.71 168.28 L471.71 168.26 L472.71 168.25 L473.70 168.24 L474.70 168.22 L475.70 168.21 L476.70 168.19 L477.70 168.18 L478.70 168.16 L479.70 168.15 L480.70 168.14 L481.70 168.12 L482.70 168.10 L483.70 168.09" stroke="#006400" stroke-dasharray="7.4 3.7"/>
<path d="M64.90 175.64 L65.90 175.59 L66.90 175.53 L67.90 175.48 L68.90 175.43 L69.90 175.38 L70.90 175.33 L71.90 175.28 L72.90 175.23 L73.90 175.19 L74.90 175.14 L75.89 175.09 L76.89 175.04 L77.89 174.99 L78.89 174.95 L79.89 174.90 L80.89 174.85 L81.89 174.81 L82.89 174.76 L83.89 174.71 L84.89 174.67 L85.89 174.62 L86.89 174.58 L87.89 174.53 L88.89 174.49 L89.89 174.44 L90.89 174.40 L91.89 174.36 L92.89 174.31 L93.89 174.27 L94.89 174.23 L95.89 174.19 L96.88 174.14 L97.88 174.10 L98.88 174.06 L99.88 174.02 L100.88 173.98 L101.88 173.94 L102.88 173.90 L103.88 173.86 L104.88 173.82 L105.88 173.78 L106.88 173.74 L107.88 173.70 L108.88 173.66 L109.88 173.62 L110.88 173.58 L111.88 173.55 L112.88 173.51 L113.88 173.47 L114.88 173.43 L115.88 173.40 L116.88 173.36 L117.87 173.32 L118.87 173.29 L119.87 173.25 L120.87 173.22 L121.87 173.18 L122.87 173.15 L123.87 173.11 L124.87 173.08 L125.87 173.04 L126.87 173.01 L127.87 172.98 L128.87 172.94 L129.87 172.91 L130.87 172.88 L131.87 172.84 L132.87 172.81 L133.87 172.78 L134.87 172.75 L135.87 172.71 L136.87 172.68 L137.87 172.65 L138.86 172.62 L139.86 172.59 L140.86 172.56 L141.86 172.53 L142.86 172.50 L143.86 172.47 L144.86 172.44 L145.86 172.41 L146.86 172.38 L147.86 172.35 L148.86 172.32 L149.86 172.29 L150.86 172.27 L151.86 172.24 L152.86 172.21 L153.86 172.18 L154.86 172.16 L155.86 172.13 L156.86 172.10 L157.86 172.07 L158.86 172.05 L159.85 172.02 L160.85 172.00 L161.85 171.97 L162.85 171.94 L163.85 171.92 L164.85 171.89 L165.85 171.87 L166.85 171.84 L167.85 171.82 L168.85 171.79 L169.85 171.77 L170.85 171.75 L171.85 171.72 L172.85 171.70 L173.85 171.68 L174.85 171.65 L175.85 171.63 L176.85 171.61 L177.85 171.58 L178.85 171.56 L179.85 171.54 L180.84 171.52 L181.84 171.50 L182.84 171.47 L183.84 171.45 L184.84 171.43 L185.84 171.41 L186.84 171.39 L187.84 171.37 L188.84 171.35 L189.84 171.33 L190.84 171.31 L191.84 171.29 L192.84 171.27 L193.84 171.25 L194.84 171.23 L195.84 171.21 L196.84 171.19 L197.84 171.17 L198.84 171.15 L199.84 171.14 L200.84 171.12 L201.83 171.10 L202.83 171.08 L203.83 171.06 L204.83 171.05 L205.83 171.03 L206.83 171.01 L207.83 170.99 L208.83 170.98 L209.83 170.96 L210.83 170.94 L211.83 170.93 L212.83 170.91 L213.83 170.89 L214.83 170.88 L215.83 170.86 L216.83 170.85 L217.83 170.83 L218.83 170.82 L219.83 170.80 L220.83 170.78 L221.83 170.77 L222.82 170.75 L223.82 170.74 L224.82 170.73 L225.82 170.71 L226.82 170.70 L227.82 170.68 L228.82 170.67 L229.82 170.66 L230.82 170.64 L231.82 170.63 L232.82 170.61 L233.82 170.60 L234.82 170.59 L235.82 170.57 L236.82 170.56 L237.82 170.55 L238.82 170.54 L239.82 170.52 L240.82 170.51 L241.82 170.50 L242.82 170.49 L243.81 170.48 L244.81 170.46 L245.81 170.45 L246.81 170.44 L247.81 170.43 L248.81 170.42 L249.81 170.41 L250.81 170.40 L251.81 170.38 L252.81 170.37 L253.81 170.36 L254.81 170.35 L255.81 170.34 L256.81 170.33 L257.81 170.32 L258.81 170.31 L259.81 170.30 L260.81 170.29 L261.81 170.28 L262.81 170.27 L263.81 170.26 L264.80 170.25 L265.80 170.24 L266.80 170.23 L267.80 170.22 L268.80 170.21 L269.80 170.20 L270.80 170.20 L271.80 170.19 L272.80 170.18 L273.80 170.17 L274.80 170.16 L275.80 170.15 L276.80 170.14 L277.80 170.13 L278.80 170.13 L279.80 170.12 L280.80 170.11 L281.80 170.10 L282.80 170.09 L283.80 170.09 L284.79 170.08 L285.79 170.07 L286.79 170.06 L287.79 170.06 L288.79 170.05 L289.79 170.04 L290.79 170.03 L291.79 170.03 L292.79 170.02 L293.79 170.01 L294.79 170.00 L295.79 170.00 L296.79 169.99 L297.79 169.98 L298.79 169.98 L299.79 169.97 L300.79 169.96 L301.79 169.96 L302.79 169.95 L303.79 169.94 L304.79 169.94 L305.78 169.93 L306.78 169.93 L307.78 169.92 L308.78 169.91 L309.78 169.91 L310.78 169.90 L311.78 169.89 L312.78 169.89 L313.78 169.88 L314.78 169.88 L315.78 169.87 L316.78 169.86 L317.78 169.86 L318.78 169.85 L319.78 169.85 L320.78 169.84 L321.78 169.84 L322.78 169.83 L323.78 169.83 L324.78 169.82 L325.78 169.81 L326.77 169.81 L327.77 169.80 L328.77 169.80 L329.77 169.79 L330.77 169.79 L331.77 169.78 L332.77 169.78 L333.77 169.77 L334.77 169.77 L335.77 169.76 L336.77 169.76 L337.77 169.75 L338.77 169.75 L339.77 169.74 L340.77 169.74 L341.77 169.73 L342.77 169.73 L343.77 169.72 L344.77 169.72 L345.77 169.71 L346.77 169.71 L347.76 169.70 L348.76 169.70 L349.76 169.69 L350.76 169.69 L351.76 169.68 L352.76 169.68 L353.76 169.67 L354.76 169.67 L355.76 169.66 L356.76 169.66 L357.76 169.65 L358.76 169.65 L359.76 169.64 L360.76 169.64 L361.76 169.63 L362.76 169.63 L363.76 169.62 L364.76 169.62 L365.76 169.61 L366.76 169.61 L367.76 169.60 L368.75 169.60 L369.75 169.59 L370.75 169.59 L371.75 169.58 L372.75 169.58 L373.75 169.57 L374.75 169.57 L375.75 169.56 L376.75 169.56 L377.75 169.55 L378.75 169.55 L379.75 169.54 L380.75 169.54 L381.75 169.53 L382.75 169.53 L383.75 169.52 L384.75 169.52 L385.75 169.51 L386.75 169.51 L387.75 169.50 L388.75 169.50 L389.74 169.49 L390.74 169.48 L391.74 169.48 L392.74 169.47 L393.74 169.47 L394.74 169.46 L395.74 169.46 L396.74 169.45 L397.74 169.44 L398.74 169.44 L399.74 169.43 L400.74 169.43 L401.74 169.42 L402.74 169.42 L403.74 169.41 L404.74 169.40 L405.74 169.40 L406.74 169.39 L407.74 169.38 L408.74 169.38 L409.74 169.37 L410.73 169.37 L411.73 169.36 L412.73 169.35 L413.73 169.35 L414.73 169.34 L415.73 169.33 L416.73 169.33 L417.73 169.32 L418.73 169.31 L419.73 169.30 L420.73 169.30 L421.73 169.29 L422.73 169.28 L423.73 169.28 L424.73 169.27 L425.73 169.26 L426.73 169.25 L427.73 169.25 L428.73 169.24 L429.73 169.23 L430.73 169.22 L431.72 169.22 L432.72 169.21 L433.72 169.20 L434.72 169.19 L435.72 169.18 L436.72 169.17 L437.72 169.17 L438.72 169.16 L439.72 169.15 L440.72 169.14 L441.72 169.13 L442.72 169.12 L443.72 169.11 L444.72 169.10 L445.72 169.09 L446.72 169.07 L447.72 169.06 L448.72 169.05 L449.72 169.04 L450.72 169.02 L451.72 169.01 L452.71 168.99 L453.71 168.97 L454.71 168.96 L455.71 168.94 L456.71 168.92 L457.71 168.90 L458.71 168.88 L459.71 168.86 L460.71 168.84 L461.71 168.81 L462.71 168.79 L463.71 168.76 L464.71 168.73 L465.71 168.70 L466.71 168.67 L467.71 168.64 L468.71 168.61 L469.71 168.58 L470.71 168.54 L471.71 168.51 L472.71 168.47 L473.70 168.43 L474.70 168.39 L475.70 168.34 L476.70 168.30 L477.70 168.25 L478.70 168.21 L479.70 168.16 L480.70 168.10 L481.70 168.05 L482.70 168.00 L483.70 167.94" stroke="#006400"/>
<path d="M64.90 170.41 L65.90 170.39 L66.90 170.37 L67.90 170.35 L68.90 170.33 L69.90 170.31 L70.90 170.29 L71.90 170.27 L72.90 170.25 L73.90 170.23 L74.90 170.21 L75.89 170.19 L76.89 170.17 L77.89 170.16 L78.89 170.14 L79.89 170.12 L80.89 170.10 L81.89 170.08 L82.89 170.06 L83.89 170.04 L84.89 170.02 L85.89 170.00 L86.89 169.98 L87.89 169.97 L88.89 169.95 L89.89 169.93 L90.89 169.91 L91.89 169.89 L92.89 169.87 L93.89 169.86 L94.89 169.84 L95.89 169.82 L96.88 169.80 L97.88 169.78 L98.88 169.77 L99.88 169.75 L100.88 169.73 L101.88 169.71 L102.88 169.70 L103.88 169.68 L104.88 169.66 L105.88 169.64 L106.88 169.63 L107.88 169.61 L108.88 169.59 L109.88 169.58 L110.88 169.56 L111.88 169.54 L112.88 169.53 L113.88 169.51 L114.88 169.49 L115.88 169.48 L116.88 169.46 L117.87 169.45 L118.87 169.43 L119.87 169.41 L120.87 169.40 L121.87 169.38 L122.87 169.37 L123.87 169.35 L124.87 169.33 L125.87 169.32 L126.87 169.30 L127.87 169.29 L128.87 169.27 L129.87 169.26 L130.87 169.24 L131.87 169.23 L132.87 169.21 L133.87 169.20 L134.87 169.18 L135.87 169.17 L136.87 169.15 L137.87 169.14 L138.86 169.12 L139.86 169.11 L140.86 169.10 L141.86 169.08 L142.86 169.07 L143.86 169.05 L144.86 169.04 L145.86 169.02 L146.86 169.01 L147.86 169.00 L148.86 168.98 L149.86 168.97 L150.86 168.96 L151.86 168.94 L152.86 168.93 L153.86 168.92 L154.86 168.90 L155.86 168.89 L156.86 168.88 L157.86 168.86 L158.86 168.85 L159.85 168.84 L160.85 168.82 L161.85 168.81 L162.85 168.80 L163.85 168.79 L164.85 168.77 L165.85 168.76 L166.85 168.75 L167.85 168.74 L168.85 168.72 L169.85 168.71 L170.85 168.70 L171.85 168.69 L172.85 168.68 L173.85 168.66 L174.85 168.65 L175.85 168.64 L176.85 168.63 L177.85 168.62 L178.85 168.60 L179.85 168.59 L180.84 168.58 L181.84 168.57 L182.84 168.56 L183.84 168.55 L184.84 168.54 L185.84 168.53 L186.84 168.51 L187.84 168.50 L188.84 168.49 L189.84 168.48 L190.84 168.47 L191.84 168.46 L192.84 168.45 L193.84 168.44 L194.84 168.43 L195.84 168.42 L196.84 168.41 L197.84 168.40 L198.84 168.39 L199.84 168.38 L200.84 168.37 L201.83 168.36 L202.83 168.35 L203.83 168.34 L204.83 168.33 L205.83 168.32 L206.83 168.31 L207.83 168.30 L208.83 168.29 L209.83 168.28 L210.83 168.27 L211.83 168.26 L212.83 168.25 L213.83 168.24 L214.83 168.24 L215.83 168.23 L216.83 168.22 L217.83 168.21 L218.83 168.20 L219.83 168.19 L220.83 168.18 L221.83 168.17 L222.82 168.17 L223.82 168.16 L224.82 168.15 L225.82 168.14 L226.82 168.13 L227.82 168.12 L228.82 168.12 L229.82 168.11 L230.82 168.10 L231.82 168.09 L232.82 168.08 L233.82 168.08 L234.82 168.07 L235.82 168.06 L236.82 168.05 L237.82 168.04 L238.82 168.04 L239.82 168.03 L240.82 168.02 L241.82 168.02 L242.82 168.01 L243.81 168.00 L244.81 167.99 L245.81 167.99 L246.81 167.98 L247.81 167.97 L248.81 167.97 L249.81 167.96 L250.81 167.95 L251.81 167.95 L252.81 167.94 L253.81 167.93 L254.81 167.93 L255.81 167.92 L256.81 167.91 L257.81 167.91 L258.81 167.90 L259.81 167.89 L260.81 167.89 L261.81 167.88 L262.81 167.88 L263.81 167.87 L264.80 167.86 L265.80 167.86 L266.80 167.85 L267.80 167.85 L268.80 167.84 L269.80 167.84 L270.80 167.83 L271.80 167.82 L272.80 167.82 L273.80 167.81 L274.80 167.81 L275.80 167.80 L276.80 167.80 L277.80 167.79 L278.80 167.79 L279.80 167.78 L280.80 167.78 L281.80 167.77 L282.80 167.77 L283.80 167.76 L284.79 167.76 L285.79 167.75 L286.79 167.75 L287.79 167.74 L288.79 167.74 L289.79 167.74 L290.79 167.73 L291.79 167.73 L292.79 167.72 L293.79 167.72 L294.79 167.71 L295.79 167.71 L296.79 167.71 L297.79 167.70 L298.79 167.70 L299.79 167.69 L300.79 167.69 L301.79 167.69 L302.79 167.68 L303.79 167.68 L304.79 167.68 L305.78 167.67 L306.78 167.67 L307.78 167.67 L308.78 167.66 L309.78 167.66 L310.78 167.66 L311.78 167.65 L312.78 167.65 L313.78 167.65 L314.78 167.64 L315.78 167.64 L316.78 167.64 L317.78 167.63 L318.78 167.63 L319.78 167.63 L320.78 167.63 L321.78 167.62 L322.78 167.62 L323.78 167.62 L324.78 167.61 L325.78 167.61 L326.77 167.61 L327.77 167.61 L328.77 167.60 L329.77 167.60 L330.77 167.60 L331.77 167.60 L332.77 167.60 L333.77 167.59 L334.77 167.59 L335.77 167.59 L336.77 167.59 L337.77 167.59 L338.77 167.58 L339.77 167.58 L340.77 167.58 L341.77 167.58 L342.77 167.58 L343.77 167.58 L344.77 167.57 L345.77 167.57 L346.77 167.57 L347.76 167.57 L348.76 167.57 L349.76 167.57 L350.76 167.57 L351.76 167.56 L352.76 167.56 L353.76 167.56 L354.76 167.56 L355.76 167.56 L356.76 167.56 L357.76 167.56 L358.76 167.56 L359.76 167.56 L360.76 167.56 L361.76 167.56 L362.76 167.55 L363.76 167.55 L364.76 167.55 L365.76 167.55 L366.76 167.55 L367.76 167.55 L368.75 167.55 L369.75 167.55 L370.75 167.55 L371.75 167.55 L372.75 167.55 L373.75 167.55 L374.75 167.55 L375.75 167.55 L376.75 167.55 L377.75 167.55 L378.75 167.55 L379.75 167.55 L380.75 167.55 L381.75 167.55 L382.75 167.55 L383.75 167.55 L384.75 167.55 L385.75 167.55 L386.75 167.55 L387.75 167.55 L388.75 167.55 L389.74 167.55 L390.74 167.55 L391.74 167.56 L392.74 167.56 L393.74 167.56 L394.74 167.56 L395.74 167.56 L396.74 167.56 L397.74 167.56 L398.74 167.56 L399.74 167.56 L400.74 167.56 L401.74 167.56 L402.74 167.56 L403.74 167.57 L404.74 167.57 L405.74 167.57 L406.74 167.57 L407.74 167.57 L408.74 167.57 L409.74 167.57 L410.73 167.57 L411.73 167.58 L412.73 167.58 L413.73 167.58 L414.73 167.58 L415.73 167.58 L416.73 167.58 L417.73 167.59 L418.73 167.59 L419.73 167.59 L420.73 167.59 L421.73 167.59 L422.73 167.60 L423.73 167.60 L424.73 167.60 L425.73 167.60 L426.73 167.60 L427.73 167.61 L428.73 167.61 L429.73 167.61 L430.73 167.61 L431.72 167.61 L432.72 167.62 L433.72 167.62 L434.72 167.62 L435.72 167.62 L436.72 167.63 L437.72 167.63 L438.72 167.63 L439.72 167.63 L440.72 167.64 L441.72 167.64 L442.72 167.64 L443.72 167.64 L444.72 167.65 L445.72 167.65 L446.72 167.65 L447.72 167.65 L448.72 167.66 L449.72 167.66 L450.72 167.66 L451.72 167.67 L452.71 167.67 L453.71 167.67 L454.71 167.68 L455.71 167.68 L456.71 167.68 L457.71 167.68 L458.71 167.69 L459.71 167.69 L460.71 167.69 L461.71 167.70 L462.71 167.70 L463.71 167.70 L464.71 167.71 L465.71 167.71 L466.71 167.71 L467.71 167.72 L468.71 167.72 L469.71 167.73 L470.71 167.73 L471.71 167.73 L472.71 167.74 L473.70 167.74 L474.70 167.74 L475.70 167.75 L476.70 167.75 L477.70 167.75 L478.70 167.76 L479.70 167.76 L480.70 167.77 L481.70 167.77 L482.70 167.77 L483.70 167.78" stroke="#000000" stroke-dasharray="7.4 3.7"/>
<path d="M64.90 102.56 L65.90 103.21 L66.90 103.86 L67.90 104.51 L68.90 105.15 L69.90 105.79 L70.90 106.42 L71.90 107.04 L72.90 107.67 L73.90 108.28 L74.90 108.90 L75.89 109.51 L76.89 110.11 L77.89 110.71 L78.89 111.30 L79.89 111.90 L80.89 112.48 L81.89 113.06 L82.89 113.64 L83.89 114.21 L84.89 114.78 L85.89 115.35 L86.89 115.91 L87.89 116.46 L88.89 117.01 L89.89 117.56 L90.89 118.10 L91.89 118.64 L92.89 119.17 L93.89 119.70 L94.89 120.23 L95.89 120.75 L96.88 121.27 L97.88 121.78 L98.88 122.29 L99.88 122.79 L100.88 123.29 L101.88 123.79 L102.88 124.28 L103.88 124.77 L104.88 125.26 L105.88 125.74 L106.88 126.21 L107.88 126.69 L108.88 127.15 L109.88 127.62 L110.88 128.08 L111.88 128.54 L112.88 128.99 L113.88 129.44 L114.88 129.88 L115.88 130.32 L116.88 130.76 L117.87 131.19 L118.87 131.62 L119.87 132.05 L120.87 132.47 L121.87 132.89 L122.87 133.31 L123.87 133.72 L124.87 134.12 L125.87 134.53 L126.87 134.93 L127.87 135.32 L128.87 135.72 L129.87 136.11 L130.87 136.49 L131.87 136.87 L132.87 137.25 L133.87 137.63 L134.87 138.00 L135.87 138.37 L136.87 138.73 L137.87 139.09 L138.86 139.45 L139.86 139.81 L140.86 140.16 L141.86 140.51 L142.86 140.85 L143.86 141.19 L144.86 141.53 L145.86 141.86 L146.86 142.19 L147.86 142.52 L148.86 142.85 L149.86 143.17 L150.86 143.48 L151.86 143.80 L152.86 144.11 L153.86 144.42 L154.86 144.73 L155.86 145.03 L156.86 145.33 L157.86 145.62 L158.86 145.92 L159.85 146.21 L160.85 146.49 L161.85 146.78 L162.85 147.06 L163.85 147.33 L164.85 147.61 L165.85 147.88 L166.85 148.15 L167.85 148.42 L168.85 148.68 L169.85 148.94 L170.85 149.20 L171.85 149.45 L172.85 149.70 L173.85 149.95 L174.85 150.20 L175.85 150.44 L176.85 150.68 L177.85 150.92 L178.85 151.16 L179.85 151.39 L180.84 151.62 L181.84 151.85 L182.84 152.07 L183.84 152.29 L184.84 152.51 L185.84 152.73 L186.84 152.94 L187.84 153.16 L188.84 153.36 L189.84 153.57 L190.84 153.77 L191.84 153.98 L192.84 154.18 L193.84 154.37 L194.84 154.57 L195.84 154.76 L196.84 154.95 L197.84 155.13 L198.84 155.32 L199.84 155.50 L200.84 155.68 L201.83 155.86 L202.83 156.03 L203.83 156.21 L204.83 156.38 L205.83 156.55 L206.83 156.71 L207.83 156.88 L208.83 157.04 L209.83 157.20 L210.83 157.36 L211.83 157.51 L212.83 157.67 L213.83 157.82 L214.83 157.97 L215.83 158.12 L216.83 158.26 L217.83 158.40 L218.83 158.54 L219.83 158.68 L220.83 158.82 L221.83 158.96 L222.82 159.09 L223.82 159.22 L224.82 159.35 L225.82 159.48 L226.82 159.60 L227.82 159.73 L228.82 159.85 L229.82 159.97 L230.82 160.09 L231.82 160.21 L232.82 160.32 L233.82 160.44 L234.82 160.55 L235.82 160.66 L236.82 160.76 L237.82 160.87 L238.82 160.98 L239.82 161.08 L240.82 161.18 L241.82 161.28 L242.82 161.38 L243.81 161.48 L244.81 161.57 L245.81 161.67 L246.81 161.76 L247.81 161.85 L248.81 161.94 L249.81 162.03 L250.81 162.11 L251.81 162.20 L252.81 162.28 L253.81 162.36 L254.81 162.45 L255.81 162.52 L256.81 162.60 L257.81 162.68 L258.81 162.76 L259.81 162.83 L260.81 162.90 L261.81 162.98 L262.81 163.05 L263.81 163.12 L264.80 163.18 L265.80 163.25 L266.80 163.32 L267.80 163.38 L268.80 163.45 L269.80 163.51 L270.80 163.57 L271.80 163.63 L272.80 163.69 L273.80 163.75 L274.80 163.81 L275.80 163.86 L276.80 163.92 L277.80 163.97 L278.80 164.03 L279.80 164.08 L280.80 164.13 L281.80 164.18 L282.80 164.23 L283.80 164.28 L284.79 164.33 L285.79 164.38 L286.79 164.42 L287.79 164.47 L288.79 164.52 L289.79 164.56 L290.79 164.60 L291.79 164.65 L292.79 164.69 L293.79 164.73 L294.79 164.77 L295.79 164.81 L296.79 164.85 L297.79 164.89 L298.79 164.93 L299.79 164.97 L300.79 165.01 L301.79 165.04 L302.79 165.08 L303.79 165.12 L304.79 165.15 L305.78 165.19 L306.78 165.22 L307.78 165.26 L308.78 165.29 L309.78 165.32 L310.78 165.36 L311.78 165.39 L312.78 165.42 L313.78 165.45 L314.78 165.48 L315.78 165.52 L316.78 165.55 L317.78 165.58 L318.78 165.61 L319.78 165.64 L320.78 165.67 L321.78 165.70 L322.78 165.73 L323.78 165.75 L324.78 165.78 L325.78 165.81 L326.77 165.84 L327.77 165.86 L328.77 165.89 L329.77 165.92 L330.77 165.94 L331.77 165.97 L332.77 166.00 L333.77 166.02 L334.77 166.05 L335.77 166.07 L336.77 166.09 L337.77 166.12 L338.77 166.14 L339.77 166.17 L340.77 166.19 L341.77 166.21 L342.77 166.23 L343.77 166.26 L344.77 166.28 L345.77 166.30 L346.77 166.32 L347.76 166.34 L348.76 166.36 L349.76 166.39 L350.76 166.41 L351.76 166.43 L352.76 166.45 L353.76 166.47 L354.76 166.48 L355.76 166.50 L356.76 166.52 L357.76 166.54 L358.76 166.56 L359.76 166.58 L360.76 166.60 L361.76 166.61 L362.76 166.63 L363.76 166.65 L364.76 166.67 L365.76 166.68 L366.76 166.70 L367.76 166.72 L368.75 166.73 L369.75 166.75 L370.75 166.76 L371.75 166.78 L372.75 166.80 L373.75 166.81 L374.75 166.83 L375.75 166.84 L376.75 166.86 L377.75 166.87 L378.75 166.88 L379.75 166.90 L380.75 166.91 L381.75 166.93 L382.75 166.94 L383.75 166.95 L384.75 166.97 L385.75 166.98 L386.75 166.99 L387.75 167.01 L388.75 167.02 L389.74 167.03 L390.74 167.04 L391.74 167.05 L392.74 167.07 L393.74 167.08 L394.74 167.09 L395.74 167.10 L396.74 167.11 L397.74 167.13 L398.74 167.14 L399.74 167.15 L400.74 167.16 L401.74 167.17 L402.74 167.18 L403.74 167.19 L404.74 167.20 L405.74 167.21 L406.74 167.22 L407.74 167.23 L408.74 167.24 L409.74 167.25 L410.73 167.26 L411.73 167.27 L412.73 167.28 L413.73 167.29 L414.73 167.30 L415.73 167.31 L416.73 167.32 L417.73 167.33 L418.73 167.34 L419.73 167.35 L420.73 167.36 L421.73 167.37 L422.73 167.38 L423.73 167.39 L424.73 167.40 L425.73 167.41 L426.73 167.41 L427.73 167.42 L428.73 167.43 L429.73 167.44 L430.73 167.45 L431.72 167.46 L432.72 167.47 L433.72 167.48 L434.72 167.49 L435.72 167.49 L436.72 167.50 L437.72 167.51 L438.72 167.52 L439.72 167.53 L440.72 167.54 L441.72 167.55 L442.72 167.56 L443.72 167.56 L444.72 167.57 L445.72 167.58 L446.72 167.59 L447.72 167.60 L448.72 167.61 L449.72 167.62 L450.72 167.63 L451.72 167.63 L452.71 167.64 L453.71 167.65 L454.71 167.66 L455.71 167.67 L456.71 167.68 L457.71 167.69 L458.71 167.70 L459.71 167.71 L460.71 167.72 L461.71 167.72 L462.71 167.73 L463.71 167.74 L464.71 167.75 L465.71 167.76 L466.71 167.77 L467.71 167.78 L468.71 167.79 L469.71 167.80 L470.71 167.81 L471.71 167.82 L472.71 167.83 L473.70 167.84 L474.70 167.85 L475.70 167.86 L476.70 167.87 L477.70 167.88 L478.70 167.89 L479.70 167.91 L480.70 167.92 L481.70 167.93 L482.70 167.94 L483.70 167.95" stroke="#000000"/>
<path d="M64.90 149.64 L65.90 149.78 L66.90 149.92 L67.90 150.06 L68.90 150.20 L69.90 150.34 L70.90 150.47 L71.90 150.61 L72.90 150.75 L73.90 150.88 L74.90 151.01 L75.89 151.15 L76.89 151.28 L77.89 151.41 L78.89 151.54 L79.89 151.67 L80.89 151.80 L81.89 151.93 L82.89 152.06 L83.89 152.19 L84.89 152.31 L85.89 152.44 L86.89 152.56 L87.89 152.69 L88.89 152.81 L89.89 152.93 L90.89 153.06 L91.89 153.18 L92.89 153.30 L93.89 153.42 L94.89 153.54 L95.89 153.66 L96.88 153.77 L97.88 153.89 L98.88 154.01 L99.88 154.12 L100.88 154.24 L101.88 154.35 L102.88 154.47 L103.88 154.58 L104.88 154.69 L105.88 154.81 L106.88 154.92 L107.88 155.03 L108.88 155.14 L109.88 155.25 L110.88 155.35 L111.88 155.46 L112.88 155.57 L113.88 155.68 L114.88 155.78 L115.88 155.89 L116.88 155.99 L117.87 156.09 L118.87 156.20 L119.87 156.30 L120.87 156.40 L121.87 156.50 L122.87 156.60 L123.87 156.70 L124.87 156.80 L125.87 156.90 L126.87 157.00 L127.87 157.10 L128.87 157.19 L129.87 157.29 L130.87 157.39 L131.87 157.48 L132.87 157.58 L133.87 157.67 L134.87 157.76 L135.87 157.85 L136.87 157.95 L137.87 158.04 L138.86 158.13 L139.86 158.22 L140.86 158.31 L141.86 158.40 L142.86 158.48 L143.86 158.57 L144.86 158.66 L145.86 158.75 L146.86 158.83 L147.86 158.92 L148.86 159.00 L149.86 159.09 L150.86 159.17 L151.86 159.25 L152.86 159.33 L153.86 159.42 L154.86 159.50 L155.86 159.58 L156.86 159.66 L157.86 159.74 L158.86 159.82 L159.85 159.89 L160.85 159.97 L161.85 160.05 L162.85 160.13 L163.85 160.20 L164.85 160.28 L165.85 160.35 L166.85 160.43 L167.85 160.50 L168.85 160.57 L169.85 160.65 L170.85 160.72 L171.85 160.79 L172.85 160.86 L173.85 160.93 L174.85 161.00 L175.85 161.07 L176.85 161.14 L177.85 161.21 L178.85 161.28 L179.85 161.35 L180.84 161.41 L181.84 161.48 L182.84 161.55 L183.84 161.61 L184.84 161.68 L185.84 161.74 L186.84 161.80 L187.84 161.87 L188.84 161.93 L189.84 161.99 L190.84 162.06 L191.84 162.12 L192.84 162.18 L193.84 162.24 L194.84 162.30 L195.84 162.36 L196.84 162.42 L197.84 162.48 L198.84 162.53 L199.84 162.59 L200.84 162.65 L201.83 162.70 L202.83 162.76 L203.83 162.82 L204.83 162.87 L205.83 162.93 L206.83 162.98 L207.83 163.03 L208.83 163.09 L209.83 163.14 L210.83 163.19 L211.83 163.25 L212.83 163.30 L213.83 163.35 L214.83 163.40 L215.83 163.45 L216.83 163.50 L217.83 163.55 L218.83 163.60 L219.83 163.65 L220.83 163.69 L221.83 163.74 L222.82 163.79 L223.82 163.83 L224.82 163.88 L225.82 163.93 L226.82 163.97 L227.82 164.02 L228.82 164.06 L229.82 164.11 L230.82 164.15 L231.82 164.19 L232.82 164.24 L233.82 164.28 L234.82 164.32 L235.82 164.36 L236.82 164.41 L237.82 164.45 L238.82 164.49 L239.82 164.53 L240.82 164.57 L241.82 164.61 L242.82 164.65 L243.81 164.68 L244.81 164.72 L245.81 164.76 L246.81 164.80 L247.81 164.84 L248.81 164.87 L249.81 164.91 L250.81 164.94 L251.81 164.98 L252.81 165.02 L253.81 165.05 L254.81 165.09 L255.81 165.12 L256.81 165.15 L257.81 165.19 L258.81 165.22 L259.81 165.25 L260.81 165.29 L261.81 165.32 L262.81 165.35 L263.81 165.38 L264.80 165.41 L265.80 165.44 L266.80 165.47 L267.80 165.50 L268.80 165.53 L269.80 165.56 L270.80 165.59 L271.80 165.62 L272.80 165.65 L273.80 165.68 L274.80 165.71 L275.80 165.73 L276.80 165.76 L277.80 165.79 L278.80 165.81 L279.80 165.84 L280.80 165.87 L281.80 165.89 L282.80 165.92 L283.80 165.94 L284.79 165.97 L285.79 165.99 L286.79 166.02 L287.79 166.04 L288.79 166.06 L289.79 166.09 L290.79 166.11 L291.79 166.13 L292.79 166.16 L293.79 166.18 L294.79 166.20 L295.79 166.22 L296.79 166.24 L297.79 166.26 L298.79 166.29 L299.79 166.31 L300.79 166.33 L301.79 166.35 L302.79 166.37 L303.79 166.39 L304.79 166.41 L305.78 166.42 L306.78 166.44 L307.78 166.46 L308.78 166.48 L309.78 166.50 L310.78 166.52 L311.78 166.53 L312.78 166.55 L313.78 166.57 L314.78 166.59 L315.78 166.60 L316.78 166.62 L317.78 166.64 L318.78 166.65 L319.78 166.67 L320.78 166.68 L321.78 166.70 L322.78 166.71 L323.78 166.73 L324.78 166.74 L325.78 166.76 L326.77 166.77 L327.77 166.79 L328.77 166.80 L329.77 166.81 L330.77 166.83 L331.77 166.84 L332.77 166.85 L333.77 166.87 L334.77 166.88 L335.77 166.89 L336.77 166.91 L337.77 166.92 L338.77 166.93 L339.77 166.94 L340.77 166.95 L341.77 166.96 L342.77 166.98 L343.77 166.99 L344.77 167.00 L345.77 167.01 L346.77 167.02 L347.76 167.03 L348.76 167.04 L349.76 167.05 L350.76 167.06 L351.76 167.07 L352.76 167.08 L353.76 167.09 L354.76 167.10 L355.76 167.11 L356.76 167.12 L357.76 167.13 L358.76 167.14 L359.76 167.15 L360.76 167.15 L361.76 167.16 L362.76 167.17 L363.76 167.18 L364.76 167.19 L365.76 167.20 L366.76 167.20 L367.76 167.21 L368.75 167.22 L369.75 167.23 L370.75 167.23 L371.75 167.24 L372.75 167.25 L373.75 167.26 L374.75 167.26 L375.75 167.27 L376.75 167.28 L377.75 167.28 L378.75 167.29 L379.75 167.30 L380.75 167.30 L381.75 167.31 L382.75 167.32 L383.75 167.32 L384.75 167.33 L385.75 167.33 L386.75 167.34 L387.75 167.35 L388.75 167.35 L389.74 167.36 L390.74 167.36 L391.74 167.37 L392.74 167.37 L393.74 167.38 L394.74 167.39 L395.74 167.39 L396.74 167.40 L397.74 167.40 L398.74 167.41 L399.74 167.41 L400.74 167.42 L401.74 167.42 L402.74 167.43 L403.74 167.43 L404.74 167.44 L405.74 167.44 L406.74 167.45 L407.74 167.45 L408.74 167.46 L409.74 167.46 L410.73 167.47 L411.73 167.47 L412.73 167.48 L413.73 167.48 L414.73 167.49 L415.73 167.49 L416.73 167.49 L417.73 167.50 L418.73 167.50 L419.73 167.51 L420.73 167.51 L421.73 167.52 L422.73 167.52 L423.73 167.53 L424.73 167.53 L425.73 167.54 L426.73 167.54 L427.73 167.55 L428.73 167.55 L429.73 167.56 L430.73 167.56 L431.72 167.56 L432.72 167.57 L433.72 167.57 L434.72 167.58 L435.72 167.58 L436.72 167.59 L437.72 167.59 L438.72 167.60 L439.72 167.60 L440.72 167.61 L441.72 167.61 L442.72 167.62 L443.72 167.62 L444.72 167.63 L445.72 167.63 L446.72 167.64 L447.72 167.64 L448.72 167.65 L449.72 167.66 L450.72 167.66 L451.72 167.67 L452.71 167.67 L453.71 167.68 L454.71 167.68 L455.71 167.69 L456.71 167.70 L457.71 167.70 L458.71 167.71 L459.71 167.71 L460.71 167.72 L461.71 167.73 L462.71 167.73 L463.71 167.74 L464.71 167.75 L465.71 167.75 L466.71 167.76 L467.71 167.77 L468.71 167.77 L469.71 167.78 L470.71 167.79 L471.71 167.80 L472.71 167.80 L473.70 167.81 L474.70 167.82 L475.70 167.83 L476.70 167.83 L477.70 167.84 L478.70 167.85 L479.70 167.86 L480.70 167.87 L481.70 167.87 L482.70 167.88 L483.70 167.89" stroke="#a020f0"/>
</g>
<!-- zero line main -->
<path d="M64.90 167.70H483.70" stroke="#000" stroke-width="0.7" stroke-dasharray="0.9 1.3" fill="none" opacity="0.75"/>
<!-- legend samples -->
<g fill="none" stroke-width="1.05">
<path d="M374.20 47.60H394.20" stroke="#ff0000" stroke-dasharray="1.9 2.8"/>
<path d="M413.80 47.60H432.20" stroke="#ff0000" stroke-dasharray="7.3 3.8"/>
<path d="M413.80 67.60H432.20" stroke="#0000ff" stroke-dasharray="7.3 3.8"/>
<path d="M448.80 67.60H469.00" stroke="#0000ff"/>
<path d="M413.80 87.50H432.20" stroke="#006400" stroke-dasharray="7.3 3.8"/>
<path d="M448.80 87.50H469.00" stroke="#006400"/>
<path d="M413.80 107.40H432.20" stroke="#000000" stroke-dasharray="7.3 3.8"/>
<path d="M448.80 107.40H469.00" stroke="#000000"/>
<path d="M448.80 127.40H469.00" stroke="#a020f0"/>
</g>
<!-- inset background -->
<rect x="314.50" y="219.60" width="149.20" height="106.60" fill="#ffffff"/>
<g clip-path="url(#ci)" fill="none" stroke-width="1.05" stroke-linejoin="round">
<path d="M314.50 213.69 L315.00 214.25 L315.50 214.81 L316.00 215.37 L316.50 215.92 L316.99 216.48 L317.49 217.03 L317.99 217.58 L318.49 218.13 L318.99 218.67 L319.49 219.22 L319.99 219.76 L320.49 220.29 L320.99 220.83 L321.49 221.37 L321.98 221.90 L322.48 222.43 L322.98 222.95 L323.48 223.48 L323.98 224.00 L324.48 224.52 L324.98 225.04 L325.48 225.55 L325.98 226.06 L326.48 226.57 L326.97 227.08 L327.47 227.59 L327.97 228.09 L328.47 228.59 L328.97 229.09 L329.47 229.59 L329.97 230.09 L330.47 230.58 L330.97 231.07 L331.47 231.56 L331.96 232.04 L332.46 232.52 L332.96 232.99 L333.46 233.46 L333.96 233.92 L334.46 234.38 L334.96 234.85 L335.46 235.30 L335.96 235.76 L336.46 236.21 L336.95 236.66 L337.45 237.10 L337.95 237.53 L338.45 237.96 L338.95 238.38 L339.45 238.80 L339.95 239.20 L340.45 239.60 L340.95 239.99 L341.45 240.38 L341.94 240.77 L342.44 241.15 L342.94 241.53 L343.44 241.90 L343.94 242.27 L344.44 242.62 L344.94 242.96 L345.44 243.30 L345.94 243.62 L346.44 243.93 L346.93 244.22 L347.43 244.50 L347.93 244.77 L348.43 245.04 L348.93 245.29 L349.43 245.54 L349.93 245.79 L350.43 246.02 L350.93 246.25 L351.43 246.48 L351.92 246.70 L352.42 246.92 L352.92 247.13 L353.42 247.34 L353.92 247.55 L354.42 247.76 L354.92 247.96 L355.42 248.17 L355.92 248.36 L356.42 248.56 L356.91 248.74 L357.41 248.92 L357.91 249.09 L358.41 249.24 L358.91 249.39 L359.41 249.54 L359.91 249.68 L360.41 249.82 L360.91 249.96 L361.41 250.10 L361.90 250.23 L362.40 250.37 L362.90 250.50 L363.40 250.63 L363.90 250.75 L364.40 250.88 L364.90 251.00 L365.40 251.12 L365.90 251.24 L366.40 251.35 L366.89 251.47 L367.39 251.58 L367.89 251.69 L368.39 251.79 L368.89 251.89 L369.39 251.99 L369.89 252.09 L370.39 252.19 L370.89 252.28 L371.39 252.37 L371.88 252.45 L372.38 252.54 L372.88 252.62 L373.38 252.69 L373.88 252.77 L374.38 252.84 L374.88 252.91 L375.38 252.98 L375.88 253.05 L376.38 253.11 L376.87 253.18 L377.37 253.24 L377.87 253.30 L378.37 253.37 L378.87 253.43 L379.37 253.49 L379.87 253.54 L380.37 253.60 L380.87 253.65 L381.37 253.71 L381.86 253.76 L382.36 253.81 L382.86 253.86 L383.36 253.91 L383.86 253.96 L384.36 254.01 L384.86 254.05 L385.36 254.09 L385.86 254.14 L386.36 254.18 L386.85 254.22 L387.35 254.26 L387.85 254.29 L388.35 254.33 L388.85 254.36 L389.35 254.40 L389.85 254.43 L390.35 254.46 L390.85 254.49 L391.35 254.53 L391.84 254.56 L392.34 254.59 L392.84 254.62 L393.34 254.65 L393.84 254.68 L394.34 254.71 L394.84 254.74 L395.34 254.77 L395.84 254.79 L396.34 254.82 L396.83 254.84 L397.33 254.87 L397.83 254.89 L398.33 254.91 L398.83 254.93 L399.33 254.94 L399.83 254.96 L400.33 254.97 L400.83 254.98 L401.33 254.99 L401.82 255.00 L402.32 255.00 L402.82 255.01 L403.32 255.01 L403.82 255.02 L404.32 255.02 L404.82 255.03 L405.32 255.03 L405.82 255.04 L406.32 255.04 L406.81 255.04 L407.31 255.05 L407.81 255.05 L408.31 255.06 L408.81 255.06 L409.31 255.06 L409.81 255.07 L410.31 255.07 L410.81 255.07 L411.31 255.08 L411.80 255.08 L412.30 255.08 L412.80 255.08 L413.30 255.09 L413.80 255.09 L414.30 255.09 L414.80 255.09 L415.30 255.09 L415.80 255.09 L416.30 255.10 L416.79 255.10 L417.29 255.10 L417.79 255.10 L418.29 255.10 L418.79 255.10 L419.29 255.10 L419.79 255.10 L420.29 255.10 L420.79 255.10 L421.29 255.10 L421.78 255.10 L422.28 255.10 L422.78 255.10 L423.28 255.10 L423.78 255.10 L424.28 255.10 L424.78 255.10 L425.28 255.10 L425.78 255.10 L426.28 255.10 L426.77 255.10 L427.27 255.10 L427.77 255.10 L428.27 255.10 L428.77 255.10 L429.27 255.10 L429.77 255.10 L430.27 255.10 L430.77 255.10 L431.27 255.10 L431.76 255.10 L432.26 255.10 L432.76 255.10 L433.26 255.10 L433.76 255.10 L434.26 255.10 L434.76 255.10 L435.26 255.10 L435.76 255.10 L436.26 255.10 L436.75 255.10 L437.25 255.10 L437.75 255.10 L438.25 255.10 L438.75 255.10 L439.25 255.10 L439.75 255.10 L440.25 255.10 L440.75 255.10 L441.25 255.10 L441.74 255.10 L442.24 255.10 L442.74 255.10 L443.24 255.10 L443.74 255.10 L444.24 255.10 L444.74 255.10 L445.24 255.10 L445.74 255.10 L446.24 255.10 L446.73 255.10 L447.23 255.10 L447.73 255.10 L448.23 255.10 L448.73 255.10 L449.23 255.10 L449.73 255.10 L450.23 255.10 L450.73 255.10 L451.23 255.10 L451.72 255.10 L452.22 255.10 L452.72 255.10 L453.22 255.10 L453.72 255.10 L454.22 255.10 L454.72 255.10 L455.22 255.10 L455.72 255.10 L456.22 255.10 L456.71 255.10 L457.21 255.10 L457.71 255.10 L458.21 255.10 L458.71 255.10 L459.21 255.10 L459.71 255.10 L460.21 255.10 L460.71 255.10 L461.21 255.10 L461.70 255.10 L462.20 255.10 L462.70 255.10 L463.20 255.10 L463.70 255.10" stroke="#ff0000" stroke-dasharray="1.9 2.8"/>
<path d="M314.50 193.95 L315.00 194.67 L315.50 195.39 L316.00 196.10 L316.50 196.81 L316.99 197.52 L317.49 198.22 L317.99 198.92 L318.49 199.62 L318.99 200.31 L319.49 200.99 L319.99 201.68 L320.49 202.36 L320.99 203.03 L321.49 203.70 L321.98 204.37 L322.48 205.04 L322.98 205.70 L323.48 206.35 L323.98 207.00 L324.48 207.65 L324.98 208.30 L325.48 208.94 L325.98 209.57 L326.48 210.21 L326.97 210.84 L327.47 211.46 L327.97 212.08 L328.47 212.70 L328.97 213.31 L329.47 213.92 L329.97 214.53 L330.47 215.13 L330.97 215.73 L331.47 216.32 L331.96 216.91 L332.46 217.50 L332.96 218.09 L333.46 218.66 L333.96 219.24 L334.46 219.81 L334.96 220.38 L335.46 220.94 L335.96 221.51 L336.46 222.06 L336.95 222.62 L337.45 223.17 L337.95 223.71 L338.45 224.25 L338.95 224.79 L339.45 225.33 L339.95 225.86 L340.45 226.38 L340.95 226.91 L341.45 227.43 L341.94 227.94 L342.44 228.46 L342.94 228.97 L343.44 229.48 L343.94 229.99 L344.44 230.50 L344.94 231.00 L345.44 231.50 L345.94 231.99 L346.44 232.47 L346.93 232.94 L347.43 233.40 L347.93 233.85 L348.43 234.29 L348.93 234.73 L349.43 235.16 L349.93 235.58 L350.43 236.00 L350.93 236.41 L351.43 236.81 L351.92 237.20 L352.42 237.59 L352.92 237.96 L353.42 238.32 L353.92 238.68 L354.42 239.02 L354.92 239.34 L355.42 239.66 L355.92 239.97 L356.42 240.27 L356.91 240.56 L357.41 240.85 L357.91 241.14 L358.41 241.42 L358.91 241.71 L359.41 242.00 L359.91 242.29 L360.41 242.58 L360.91 242.88 L361.41 243.18 L361.90 243.48 L362.40 243.78 L362.90 244.07 L363.40 244.36 L363.90 244.65 L364.40 244.93 L364.90 245.20 L365.40 245.47 L365.90 245.74 L366.40 246.00 L366.89 246.27 L367.39 246.53 L367.89 246.80 L368.39 247.05 L368.89 247.31 L369.39 247.57 L369.89 247.81 L370.39 248.06 L370.89 248.30 L371.39 248.53 L371.88 248.76 L372.38 248.99 L372.88 249.20 L373.38 249.41 L373.88 249.61 L374.38 249.81 L374.88 250.00 L375.38 250.19 L375.88 250.38 L376.38 250.56 L376.87 250.74 L377.37 250.91 L377.87 251.08 L378.37 251.25 L378.87 251.41 L379.37 251.57 L379.87 251.71 L380.37 251.86 L380.87 251.99 L381.37 252.12 L381.86 252.25 L382.36 252.36 L382.86 252.47 L383.36 252.58 L383.86 252.68 L384.36 252.78 L384.86 252.88 L385.36 252.97 L385.86 253.06 L386.36 253.15 L386.85 253.23 L387.35 253.31 L387.85 253.39 L388.35 253.46 L388.85 253.53 L389.35 253.59 L389.85 253.66 L390.35 253.72 L390.85 253.78 L391.35 253.85 L391.84 253.91 L392.34 253.97 L392.84 254.03 L393.34 254.09 L393.84 254.15 L394.34 254.21 L394.84 254.26 L395.34 254.32 L395.84 254.37 L396.34 254.42 L396.83 254.47 L397.33 254.51 L397.83 254.56 L398.33 254.60 L398.83 254.63 L399.33 254.67 L399.83 254.70 L400.33 254.73 L400.83 254.75 L401.33 254.78 L401.82 254.79 L402.32 254.81 L402.82 254.82 L403.32 254.84 L403.82 254.85 L404.32 254.87 L404.82 254.88 L405.32 254.89 L405.82 254.90 L406.32 254.92 L406.81 254.93 L407.31 254.94 L407.81 254.95 L408.31 254.96 L408.81 254.97 L409.31 254.98 L409.81 254.99 L410.31 255.00 L410.81 255.01 L411.31 255.02 L411.80 255.03 L412.30 255.04 L412.80 255.05 L413.30 255.05 L413.80 255.06 L414.30 255.07 L414.80 255.07 L415.30 255.08 L415.80 255.08 L416.30 255.09 L416.79 255.09 L417.29 255.09 L417.79 255.09 L418.29 255.10 L418.79 255.10 L419.29 255.10 L419.79 255.10 L420.29 255.10 L420.79 255.10 L421.29 255.10 L421.78 255.10 L422.28 255.10 L422.78 255.10 L423.28 255.10 L423.78 255.10 L424.28 255.10 L424.78 255.10 L425.28 255.10 L425.78 255.10 L426.28 255.10 L426.77 255.10 L427.27 255.10 L427.77 255.10 L428.27 255.10 L428.77 255.10 L429.27 255.10 L429.77 255.10 L430.27 255.10 L430.77 255.10 L431.27 255.10 L431.76 255.10 L432.26 255.10 L432.76 255.10 L433.26 255.10 L433.76 255.10 L434.26 255.10 L434.76 255.10 L435.26 255.10 L435.76 255.10 L436.26 255.10 L436.75 255.10 L437.25 255.10 L437.75 255.10 L438.25 255.10 L438.75 255.10 L439.25 255.10 L439.75 255.10 L440.25 255.10 L440.75 255.10 L441.25 255.10 L441.74 255.10 L442.24 255.10 L442.74 255.10 L443.24 255.10 L443.74 255.10 L444.24 255.10 L444.74 255.10 L445.24 255.10 L445.74 255.10 L446.24 255.10 L446.73 255.10 L447.23 255.10 L447.73 255.10 L448.23 255.10 L448.73 255.10 L449.23 255.10 L449.73 255.10 L450.23 255.10 L450.73 255.10 L451.23 255.10 L451.72 255.10 L452.22 255.10 L452.72 255.10 L453.22 255.10 L453.72 255.10 L454.22 255.10 L454.72 255.10 L455.22 255.10 L455.72 255.10 L456.22 255.10 L456.71 255.10 L457.21 255.10 L457.71 255.10 L458.21 255.10 L458.71 255.10 L459.21 255.10 L459.71 255.10 L460.21 255.10 L460.71 255.10 L461.21 255.10 L461.70 255.10 L462.20 255.10 L462.70 255.10 L463.20 255.10 L463.70 255.10" stroke="#ff0000" stroke-dasharray="7.4 3.7"/>
<path d="M314.50 348.45 L315.00 347.64 L315.50 346.84 L316.00 346.04 L316.50 345.24 L316.99 344.44 L317.49 343.65 L317.99 342.86 L318.49 342.07 L318.99 341.29 L319.49 340.50 L319.99 339.73 L320.49 338.95 L320.99 338.18 L321.49 337.41 L321.98 336.64 L322.48 335.88 L322.98 335.12 L323.48 334.36 L323.98 333.61 L324.48 332.86 L324.98 332.11 L325.48 331.36 L325.98 330.62 L326.48 329.88 L326.97 329.14 L327.47 328.41 L327.97 327.68 L328.47 326.96 L328.97 326.23 L329.47 325.51 L329.97 324.79 L330.47 324.08 L330.97 323.37 L331.47 322.66 L331.96 321.95 L332.46 321.25 L332.96 320.55 L333.46 319.86 L333.96 319.16 L334.46 318.47 L334.96 317.79 L335.46 317.10 L335.96 316.42 L336.46 315.74 L336.95 315.07 L337.45 314.40 L337.95 313.73 L338.45 313.07 L338.95 312.40 L339.45 311.75 L339.95 311.09 L340.45 310.44 L340.95 309.79 L341.45 309.14 L341.94 308.50 L342.44 307.86 L342.94 307.22 L343.44 306.59 L343.94 305.96 L344.44 305.33 L344.94 304.71 L345.44 304.08 L345.94 303.47 L346.44 302.85 L346.93 302.24 L347.43 301.63 L347.93 301.02 L348.43 300.42 L348.93 299.82 L349.43 299.22 L349.93 298.63 L350.43 298.04 L350.93 297.45 L351.43 296.87 L351.92 296.28 L352.42 295.71 L352.92 295.13 L353.42 294.56 L353.92 293.99 L354.42 293.42 L354.92 292.86 L355.42 292.29 L355.92 291.73 L356.42 291.17 L356.91 290.62 L357.41 290.07 L357.91 289.51 L358.41 288.97 L358.91 288.42 L359.41 287.88 L359.91 287.35 L360.41 286.81 L360.91 286.28 L361.41 285.76 L361.90 285.24 L362.40 284.72 L362.90 284.21 L363.40 283.70 L363.90 283.20 L364.40 282.70 L364.90 282.21 L365.40 281.71 L365.90 281.22 L366.40 280.73 L366.89 280.25 L367.39 279.77 L367.89 279.29 L368.39 278.81 L368.89 278.34 L369.39 277.88 L369.89 277.41 L370.39 276.96 L370.89 276.51 L371.39 276.07 L371.88 275.63 L372.38 275.21 L372.88 274.79 L373.38 274.38 L373.88 273.97 L374.38 273.58 L374.88 273.19 L375.38 272.80 L375.88 272.42 L376.38 272.04 L376.87 271.66 L377.37 271.29 L377.87 270.92 L378.37 270.56 L378.87 270.20 L379.37 269.85 L379.87 269.50 L380.37 269.16 L380.87 268.82 L381.37 268.49 L381.86 268.17 L382.36 267.85 L382.86 267.54 L383.36 267.24 L383.86 266.94 L384.36 266.66 L384.86 266.38 L385.36 266.11 L385.86 265.84 L386.36 265.59 L386.85 265.34 L387.35 265.10 L387.85 264.86 L388.35 264.63 L388.85 264.40 L389.35 264.18 L389.85 263.96 L390.35 263.74 L390.85 263.53 L391.35 263.32 L391.84 263.10 L392.34 262.89 L392.84 262.68 L393.34 262.47 L393.84 262.25 L394.34 262.04 L394.84 261.82 L395.34 261.61 L395.84 261.39 L396.34 261.18 L396.83 260.97 L397.33 260.76 L397.83 260.55 L398.33 260.35 L398.83 260.15 L399.33 259.95 L399.83 259.76 L400.33 259.58 L400.83 259.40 L401.33 259.22 L401.82 259.06 L402.32 258.90 L402.82 258.74 L403.32 258.58 L403.82 258.43 L404.32 258.28 L404.82 258.13 L405.32 257.98 L405.82 257.84 L406.32 257.70 L406.81 257.57 L407.31 257.44 L407.81 257.31 L408.31 257.19 L408.81 257.07 L409.31 256.96 L409.81 256.86 L410.31 256.76 L410.81 256.66 L411.31 256.57 L411.80 256.48 L412.30 256.39 L412.80 256.30 L413.30 256.22 L413.80 256.14 L414.30 256.06 L414.80 255.99 L415.30 255.92 L415.80 255.86 L416.30 255.80 L416.79 255.75 L417.29 255.71 L417.79 255.67 L418.29 255.63 L418.79 255.60 L419.29 255.56 L419.79 255.52 L420.29 255.49 L420.79 255.46 L421.29 255.42 L421.78 255.39 L422.28 255.36 L422.78 255.33 L423.28 255.30 L423.78 255.28 L424.28 255.25 L424.78 255.23 L425.28 255.21 L425.78 255.19 L426.28 255.17 L426.77 255.15 L427.27 255.14 L427.77 255.13 L428.27 255.12 L428.77 255.11 L429.27 255.10 L429.77 255.10 L430.27 255.10 L430.77 255.10 L431.27 255.10 L431.76 255.10 L432.26 255.10 L432.76 255.10 L433.26 255.10 L433.76 255.10 L434.26 255.10 L434.76 255.10 L435.26 255.10 L435.76 255.10 L436.26 255.10 L436.75 255.10 L437.25 255.10 L437.75 255.10 L438.25 255.10 L438.75 255.10 L439.25 255.10 L439.75 255.10 L440.25 255.10 L440.75 255.10 L441.25 255.10 L441.74 255.10 L442.24 255.10 L442.74 255.10 L443.24 255.10 L443.74 255.10 L444.24 255.10 L444.74 255.10 L445.24 255.10 L445.74 255.10 L446.24 255.10 L446.73 255.10 L447.23 255.10 L447.73 255.10 L448.23 255.10 L448.73 255.10 L449.23 255.10 L449.73 255.10 L450.23 255.10 L450.73 255.10 L451.23 255.10 L451.72 255.10 L452.22 255.10 L452.72 255.10 L453.22 255.10 L453.72 255.10 L454.22 255.10 L454.72 255.10 L455.22 255.10 L455.72 255.10 L456.22 255.10 L456.71 255.10 L457.21 255.10 L457.71 255.10 L458.21 255.10 L458.71 255.10 L459.21 255.10 L459.71 255.10 L460.21 255.10 L460.71 255.10 L461.21 255.10 L461.70 255.10 L462.20 255.10 L462.70 255.10 L463.20 255.10 L463.70 255.10" stroke="#0000ff" stroke-dasharray="7.4 3.7"/>
<path d="M314.50 403.11 L315.00 402.20 L315.50 401.29 L316.00 400.37 L316.50 399.44 L316.99 398.50 L317.49 397.55 L317.99 396.60 L318.49 395.64 L318.99 394.67 L319.49 393.69 L319.99 392.71 L320.49 391.72 L320.99 390.72 L321.49 389.72 L321.98 388.71 L322.48 387.70 L322.98 386.68 L323.48 385.65 L323.98 384.62 L324.48 383.59 L324.98 382.55 L325.48 381.50 L325.98 380.45 L326.48 379.40 L326.97 378.34 L327.47 377.28 L327.97 376.21 L328.47 375.15 L328.97 374.07 L329.47 373.00 L329.97 371.92 L330.47 370.84 L330.97 369.76 L331.47 368.67 L331.96 367.59 L332.46 366.50 L332.96 365.41 L333.46 364.32 L333.96 363.22 L334.46 362.13 L334.96 361.04 L335.46 359.94 L335.96 358.85 L336.46 357.75 L336.95 356.66 L337.45 355.56 L337.95 354.47 L338.45 353.37 L338.95 352.28 L339.45 351.19 L339.95 350.10 L340.45 349.01 L340.95 347.92 L341.45 346.84 L341.94 345.75 L342.44 344.67 L342.94 343.59 L343.44 342.52 L343.94 341.45 L344.44 340.38 L344.94 339.31 L345.44 338.25 L345.94 337.19 L346.44 336.13 L346.93 335.08 L347.43 334.04 L347.93 333.00 L348.43 331.96 L348.93 330.93 L349.43 329.90 L349.93 328.88 L350.43 327.86 L350.93 326.85 L351.43 325.85 L351.92 324.85 L352.42 323.86 L352.92 322.87 L353.42 321.90 L353.92 320.93 L354.42 319.96 L354.92 319.01 L355.42 318.06 L355.92 317.12 L356.42 316.19 L356.91 315.26 L357.41 314.35 L357.91 313.44 L358.41 312.54 L358.91 311.64 L359.41 310.76 L359.91 309.87 L360.41 308.99 L360.91 308.12 L361.41 307.26 L361.90 306.40 L362.40 305.55 L362.90 304.70 L363.40 303.87 L363.90 303.04 L364.40 302.22 L364.90 301.41 L365.40 300.61 L365.90 299.82 L366.40 299.04 L366.89 298.26 L367.39 297.49 L367.89 296.73 L368.39 295.97 L368.89 295.22 L369.39 294.47 L369.89 293.73 L370.39 293.01 L370.89 292.29 L371.39 291.58 L371.88 290.88 L372.38 290.19 L372.88 289.51 L373.38 288.84 L373.88 288.18 L374.38 287.54 L374.88 286.91 L375.38 286.28 L375.88 285.67 L376.38 285.06 L376.87 284.47 L377.37 283.88 L377.87 283.30 L378.37 282.72 L378.87 282.15 L379.37 281.59 L379.87 281.03 L380.37 280.48 L380.87 279.94 L381.37 279.39 L381.86 278.85 L382.36 278.32 L382.86 277.80 L383.36 277.28 L383.86 276.78 L384.36 276.29 L384.86 275.80 L385.36 275.31 L385.86 274.83 L386.36 274.34 L386.85 273.86 L387.35 273.37 L387.85 272.88 L388.35 272.38 L388.85 271.87 L389.35 271.35 L389.85 270.82 L390.35 270.26 L390.85 269.68 L391.35 269.09 L391.84 268.49 L392.34 267.90 L392.84 267.32 L393.34 266.75 L393.84 266.21 L394.34 265.69 L394.84 265.22 L395.34 264.78 L395.84 264.37 L396.34 263.97 L396.83 263.58 L397.33 263.21 L397.83 262.85 L398.33 262.49 L398.83 262.16 L399.33 261.83 L399.83 261.52 L400.33 261.22 L400.83 260.93 L401.33 260.65 L401.82 260.39 L402.32 260.14 L402.82 259.89 L403.32 259.65 L403.82 259.41 L404.32 259.17 L404.82 258.95 L405.32 258.72 L405.82 258.51 L406.32 258.30 L406.81 258.10 L407.31 257.91 L407.81 257.73 L408.31 257.56 L408.81 257.39 L409.31 257.24 L409.81 257.10 L410.31 256.97 L410.81 256.85 L411.31 256.74 L411.80 256.63 L412.30 256.52 L412.80 256.41 L413.30 256.31 L413.80 256.21 L414.30 256.11 L414.80 256.02 L415.30 255.94 L415.80 255.86 L416.30 255.78 L416.79 255.71 L417.29 255.65 L417.79 255.60 L418.29 255.56 L418.79 255.52 L419.29 255.49 L419.79 255.46 L420.29 255.44 L420.79 255.41 L421.29 255.39 L421.78 255.36 L422.28 255.34 L422.78 255.32 L423.28 255.30 L423.78 255.28 L424.28 255.26 L424.78 255.24 L425.28 255.22 L425.78 255.20 L426.28 255.19 L426.77 255.17 L427.27 255.16 L427.77 255.15 L428.27 255.14 L428.77 255.13 L429.27 255.12 L429.77 255.11 L430.27 255.11 L430.77 255.10 L431.27 255.10 L431.76 255.10 L432.26 255.10 L432.76 255.10 L433.26 255.10 L433.76 255.10 L434.26 255.10 L434.76 255.10 L435.26 255.10 L435.76 255.10 L436.26 255.10 L436.75 255.10 L437.25 255.10 L437.75 255.10 L438.25 255.10 L438.75 255.10 L439.25 255.10 L439.75 255.10 L440.25 255.10 L440.75 255.10 L441.25 255.10 L441.74 255.10 L442.24 255.10 L442.74 255.10 L443.24 255.10 L443.74 255.10 L444.24 255.10 L444.74 255.10 L445.24 255.10 L445.74 255.10 L446.24 255.10 L446.73 255.10 L447.23 255.10 L447.73 255.10 L448.23 255.10 L448.73 255.10 L449.23 255.10 L449.73 255.10 L450.23 255.10 L450.73 255.10 L451.23 255.10 L451.72 255.10 L452.22 255.10 L452.72 255.10 L453.22 255.10 L453.72 255.10 L454.22 255.10 L454.72 255.10 L455.22 255.10 L455.72 255.10 L456.22 255.10 L456.71 255.10 L457.21 255.10 L457.71 255.10 L458.21 255.10 L458.71 255.10 L459.21 255.10 L459.71 255.10 L460.21 255.10 L460.71 255.10 L461.21 255.10 L461.70 255.10 L462.20 255.10 L462.70 255.10 L463.20 255.10 L463.70 255.10" stroke="#0000ff"/>
<path d="M314.50 266.30 L315.00 266.30 L315.50 266.30 L316.00 266.30 L316.50 266.30 L316.99 266.30 L317.49 266.30 L317.99 266.30 L318.49 266.30 L318.99 266.30 L319.49 266.30 L319.99 266.30 L320.49 266.30 L320.99 266.30 L321.49 266.30 L321.98 266.30 L322.48 266.30 L322.98 266.30 L323.48 266.30 L323.98 266.30 L324.48 266.30 L324.98 266.30 L325.48 266.30 L325.98 266.30 L326.48 266.30 L326.97 266.30 L327.47 266.30 L327.97 266.30 L328.47 266.30 L328.97 266.30 L329.47 266.30 L329.97 266.30 L330.47 266.30 L330.97 266.30 L331.47 266.30 L331.96 266.30 L332.46 266.31 L332.96 266.32 L333.46 266.32 L333.96 266.33 L334.46 266.34 L334.96 266.36 L335.46 266.37 L335.96 266.38 L336.46 266.40 L336.95 266.41 L337.45 266.43 L337.95 266.45 L338.45 266.47 L338.95 266.48 L339.45 266.50 L339.95 266.52 L340.45 266.54 L340.95 266.56 L341.45 266.58 L341.94 266.59 L342.44 266.61 L342.94 266.63 L343.44 266.65 L343.94 266.67 L344.44 266.70 L344.94 266.72 L345.44 266.74 L345.94 266.77 L346.44 266.79 L346.93 266.82 L347.43 266.85 L347.93 266.88 L348.43 266.91 L348.93 266.94 L349.43 266.97 L349.93 267.00 L350.43 267.03 L350.93 267.06 L351.43 267.10 L351.92 267.13 L352.42 267.17 L352.92 267.20 L353.42 267.24 L353.92 267.27 L354.42 267.31 L354.92 267.35 L355.42 267.39 L355.92 267.43 L356.42 267.46 L356.91 267.50 L357.41 267.54 L357.91 267.58 L358.41 267.63 L358.91 267.67 L359.41 267.71 L359.91 267.76 L360.41 267.80 L360.91 267.85 L361.41 267.90 L361.90 267.95 L362.40 268.01 L362.90 268.06 L363.40 268.11 L363.90 268.17 L364.40 268.23 L364.90 268.28 L365.40 268.34 L365.90 268.40 L366.40 268.46 L366.89 268.53 L367.39 268.59 L367.89 268.65 L368.39 268.72 L368.89 268.78 L369.39 268.85 L369.89 268.91 L370.39 268.98 L370.89 269.05 L371.39 269.12 L371.88 269.19 L372.38 269.26 L372.88 269.33 L373.38 269.40 L373.88 269.47 L374.38 269.54 L374.88 269.61 L375.38 269.68 L375.88 269.76 L376.38 269.83 L376.87 269.91 L377.37 269.99 L377.87 270.06 L378.37 270.14 L378.87 270.23 L379.37 270.31 L379.87 270.39 L380.37 270.48 L380.87 270.57 L381.37 270.66 L381.86 270.75 L382.36 270.85 L382.86 270.95 L383.36 271.05 L383.86 271.15 L384.36 271.26 L384.86 271.37 L385.36 271.48 L385.86 271.61 L386.36 271.74 L386.85 271.89 L387.35 272.04 L387.85 272.20 L388.35 272.36 L388.85 272.52 L389.35 272.69 L389.85 272.86 L390.35 273.03 L390.85 273.19 L391.35 273.36 L391.84 273.52 L392.34 273.67 L392.84 273.82 L393.34 273.96 L393.84 274.09 L394.34 274.22 L394.84 274.35 L395.34 274.49 L395.84 274.62 L396.34 274.74 L396.83 274.87 L397.33 274.99 L397.83 275.12 L398.33 275.24 L398.83 275.35 L399.33 275.46 L399.83 275.57 L400.33 275.68 L400.83 275.78 L401.33 275.88 L401.82 275.97 L402.32 276.06 L402.82 276.15 L403.32 276.24 L403.82 276.33 L404.32 276.42 L404.82 276.51 L405.32 276.59 L405.82 276.68 L406.32 276.76 L406.81 276.83 L407.31 276.90 L407.81 276.97 L408.31 277.03 L408.81 277.08 L409.31 277.13 L409.81 277.16 L410.31 277.19 L410.81 277.21 L411.31 277.22 L411.80 277.24 L412.30 277.25 L412.80 277.26 L413.30 277.27 L413.80 277.28 L414.30 277.29 L414.80 277.30 L415.30 277.30 L415.80 277.30 L416.30 277.28 L416.79 277.24 L417.29 277.18 L417.79 277.10 L418.29 277.00 L418.79 276.89 L419.29 276.76 L419.79 276.62 L420.29 276.46 L420.79 276.30 L421.29 276.13 L421.78 275.96 L422.28 275.78 L422.78 275.60 L423.28 275.42 L423.78 275.25 L424.28 275.07 L424.78 274.89 L425.28 274.69 L425.78 274.48 L426.28 274.26 L426.77 274.03 L427.27 273.78 L427.77 273.53 L428.27 273.26 L428.77 272.99 L429.27 272.71 L429.77 272.43 L430.27 272.14 L430.77 271.84 L431.27 271.54 L431.76 271.22 L432.26 270.89 L432.76 270.54 L433.26 270.18 L433.76 269.81 L434.26 269.43 L434.76 269.04 L435.26 268.65 L435.76 268.25 L436.26 267.85 L436.75 267.45 L437.25 267.04 L437.75 266.64 L438.25 266.23 L438.75 265.81 L439.25 265.37 L439.75 264.93 L440.25 264.47 L440.75 264.02 L441.25 263.56 L441.74 263.11 L442.24 262.66 L442.74 262.22 L443.24 261.79 L443.74 261.37 L444.24 260.98 L444.74 260.60 L445.24 260.22 L445.74 259.84 L446.24 259.47 L446.73 259.10 L447.23 258.75 L447.73 258.41 L448.23 258.09 L448.73 257.79 L449.23 257.52 L449.73 257.29 L450.23 257.07 L450.73 256.85 L451.23 256.63 L451.72 256.43 L452.22 256.24 L452.72 256.07 L453.22 255.92 L453.72 255.79 L454.22 255.68 L454.72 255.61 L455.22 255.56 L455.72 255.51 L456.22 255.46 L456.71 255.42 L457.21 255.38 L457.71 255.34 L458.21 255.30 L458.71 255.27 L459.21 255.24 L459.71 255.21 L460.21 255.19 L460.71 255.16 L461.21 255.14 L461.70 255.13 L462.20 255.12 L462.70 255.11 L463.20 255.10 L463.70 255.10" stroke="#006400" stroke-dasharray="7.4 3.7"/>
<path d="M314.50 272.30 L315.00 272.27 L315.50 272.24 L316.00 272.21 L316.50 272.18 L316.99 272.15 L317.49 272.13 L317.99 272.10 L318.49 272.08 L318.99 272.06 L319.49 272.05 L319.99 272.03 L320.49 272.01 L320.99 272.00 L321.49 271.99 L321.98 271.97 L322.48 271.96 L322.98 271.95 L323.48 271.94 L323.98 271.94 L324.48 271.93 L324.98 271.92 L325.48 271.92 L325.98 271.92 L326.48 271.91 L326.97 271.91 L327.47 271.91 L327.97 271.90 L328.47 271.90 L328.97 271.90 L329.47 271.90 L329.97 271.90 L330.47 271.90 L330.97 271.90 L331.47 271.90 L331.96 271.91 L332.46 271.92 L332.96 271.93 L333.46 271.94 L333.96 271.96 L334.46 271.98 L334.96 272.00 L335.46 272.02 L335.96 272.05 L336.46 272.08 L336.95 272.10 L337.45 272.13 L337.95 272.16 L338.45 272.19 L338.95 272.22 L339.45 272.25 L339.95 272.28 L340.45 272.31 L340.95 272.34 L341.45 272.36 L341.94 272.39 L342.44 272.42 L342.94 272.45 L343.44 272.47 L343.94 272.50 L344.44 272.53 L344.94 272.55 L345.44 272.58 L345.94 272.61 L346.44 272.64 L346.93 272.67 L347.43 272.70 L347.93 272.73 L348.43 272.76 L348.93 272.79 L349.43 272.82 L349.93 272.86 L350.43 272.89 L350.93 272.92 L351.43 272.96 L351.92 272.99 L352.42 273.03 L352.92 273.07 L353.42 273.10 L353.92 273.14 L354.42 273.18 L354.92 273.22 L355.42 273.26 L355.92 273.30 L356.42 273.35 L356.91 273.39 L357.41 273.44 L357.91 273.48 L358.41 273.53 L358.91 273.58 L359.41 273.63 L359.91 273.68 L360.41 273.74 L360.91 273.80 L361.41 273.86 L361.90 273.92 L362.40 273.98 L362.90 274.05 L363.40 274.12 L363.90 274.19 L364.40 274.26 L364.90 274.33 L365.40 274.40 L365.90 274.48 L366.40 274.55 L366.89 274.63 L367.39 274.71 L367.89 274.79 L368.39 274.88 L368.89 274.96 L369.39 275.05 L369.89 275.13 L370.39 275.22 L370.89 275.31 L371.39 275.40 L371.88 275.49 L372.38 275.58 L372.88 275.67 L373.38 275.76 L373.88 275.86 L374.38 275.95 L374.88 276.05 L375.38 276.16 L375.88 276.26 L376.38 276.37 L376.87 276.49 L377.37 276.60 L377.87 276.72 L378.37 276.84 L378.87 276.97 L379.37 277.09 L379.87 277.22 L380.37 277.35 L380.87 277.48 L381.37 277.62 L381.86 277.75 L382.36 277.89 L382.86 278.02 L383.36 278.16 L383.86 278.29 L384.36 278.43 L384.86 278.56 L385.36 278.70 L385.86 278.83 L386.36 278.97 L386.85 279.11 L387.35 279.25 L387.85 279.39 L388.35 279.53 L388.85 279.67 L389.35 279.82 L389.85 279.97 L390.35 280.12 L390.85 280.27 L391.35 280.42 L391.84 280.57 L392.34 280.73 L392.84 280.89 L393.34 281.05 L393.84 281.21 L394.34 281.39 L394.84 281.57 L395.34 281.75 L395.84 281.94 L396.34 282.14 L396.83 282.33 L397.33 282.53 L397.83 282.73 L398.33 282.92 L398.83 283.12 L399.33 283.30 L399.83 283.49 L400.33 283.67 L400.83 283.84 L401.33 284.00 L401.82 284.15 L402.32 284.29 L402.82 284.43 L403.32 284.58 L403.82 284.72 L404.32 284.86 L404.82 285.00 L405.32 285.13 L405.82 285.26 L406.32 285.39 L406.81 285.51 L407.31 285.63 L407.81 285.74 L408.31 285.84 L408.81 285.94 L409.31 286.02 L409.81 286.10 L410.31 286.17 L410.81 286.22 L411.31 286.28 L411.80 286.33 L412.30 286.38 L412.80 286.43 L413.30 286.48 L413.80 286.53 L414.30 286.57 L414.80 286.60 L415.30 286.64 L415.80 286.66 L416.30 286.68 L416.79 286.69 L417.29 286.70 L417.79 286.69 L418.29 286.67 L418.79 286.63 L419.29 286.57 L419.79 286.49 L420.29 286.40 L420.79 286.30 L421.29 286.19 L421.78 286.07 L422.28 285.94 L422.78 285.81 L423.28 285.67 L423.78 285.52 L424.28 285.38 L424.78 285.21 L425.28 285.00 L425.78 284.76 L426.28 284.49 L426.77 284.20 L427.27 283.88 L427.77 283.55 L428.27 283.20 L428.77 282.83 L429.27 282.45 L429.77 282.07 L430.27 281.68 L430.77 281.28 L431.27 280.89 L431.76 280.46 L432.26 280.01 L432.76 279.53 L433.26 279.04 L433.76 278.52 L434.26 277.99 L434.76 277.46 L435.26 276.92 L435.76 276.37 L436.26 275.83 L436.75 275.28 L437.25 274.72 L437.75 274.15 L438.25 273.58 L438.75 272.99 L439.25 272.39 L439.75 271.79 L440.25 271.18 L440.75 270.57 L441.25 269.94 L441.74 269.30 L442.24 268.63 L442.74 267.94 L443.24 267.25 L443.74 266.55 L444.24 265.85 L444.74 265.17 L445.24 264.50 L445.74 263.87 L446.24 263.27 L446.73 262.70 L447.23 262.12 L447.73 261.55 L448.23 260.98 L448.73 260.43 L449.23 259.91 L449.73 259.42 L450.23 258.97 L450.73 258.56 L451.23 258.21 L451.72 257.91 L452.22 257.62 L452.72 257.34 L453.22 257.08 L453.72 256.84 L454.22 256.61 L454.72 256.41 L455.22 256.23 L455.72 256.08 L456.22 255.96 L456.71 255.86 L457.21 255.77 L457.71 255.69 L458.21 255.60 L458.71 255.53 L459.21 255.45 L459.71 255.38 L460.21 255.32 L460.71 255.27 L461.21 255.22 L461.70 255.18 L462.20 255.14 L462.70 255.12 L463.20 255.11 L463.70 255.10" stroke="#006400"/>
<path d="M314.50 239.17 L315.00 239.27 L315.50 239.38 L316.00 239.48 L316.50 239.58 L316.99 239.68 L317.49 239.79 L317.99 239.89 L318.49 239.99 L318.99 240.10 L319.49 240.20 L319.99 240.30 L320.49 240.41 L320.99 240.51 L321.49 240.62 L321.98 240.72 L322.48 240.83 L322.98 240.93 L323.48 241.04 L323.98 241.14 L324.48 241.25 L324.98 241.35 L325.48 241.46 L325.98 241.57 L326.48 241.67 L326.97 241.78 L327.47 241.88 L327.97 241.99 L328.47 242.10 L328.97 242.21 L329.47 242.31 L329.97 242.42 L330.47 242.53 L330.97 242.64 L331.47 242.74 L331.96 242.85 L332.46 242.96 L332.96 243.07 L333.46 243.18 L333.96 243.28 L334.46 243.39 L334.96 243.50 L335.46 243.61 L335.96 243.72 L336.46 243.83 L336.95 243.94 L337.45 244.05 L337.95 244.16 L338.45 244.27 L338.95 244.38 L339.45 244.50 L339.95 244.61 L340.45 244.72 L340.95 244.83 L341.45 244.95 L341.94 245.06 L342.44 245.18 L342.94 245.30 L343.44 245.42 L343.94 245.54 L344.44 245.66 L344.94 245.78 L345.44 245.90 L345.94 246.02 L346.44 246.15 L346.93 246.27 L347.43 246.40 L347.93 246.52 L348.43 246.65 L348.93 246.78 L349.43 246.90 L349.93 247.03 L350.43 247.16 L350.93 247.28 L351.43 247.41 L351.92 247.53 L352.42 247.66 L352.92 247.78 L353.42 247.90 L353.92 248.03 L354.42 248.15 L354.92 248.27 L355.42 248.39 L355.92 248.50 L356.42 248.62 L356.91 248.73 L357.41 248.85 L357.91 248.96 L358.41 249.07 L358.91 249.18 L359.41 249.29 L359.91 249.40 L360.41 249.51 L360.91 249.61 L361.41 249.72 L361.90 249.83 L362.40 249.94 L362.90 250.04 L363.40 250.15 L363.90 250.26 L364.40 250.36 L364.90 250.47 L365.40 250.57 L365.90 250.67 L366.40 250.77 L366.89 250.88 L367.39 250.98 L367.89 251.07 L368.39 251.17 L368.89 251.27 L369.39 251.37 L369.89 251.46 L370.39 251.55 L370.89 251.64 L371.39 251.73 L371.88 251.82 L372.38 251.91 L372.88 252.00 L373.38 252.08 L373.88 252.16 L374.38 252.25 L374.88 252.33 L375.38 252.41 L375.88 252.49 L376.38 252.57 L376.87 252.65 L377.37 252.73 L377.87 252.81 L378.37 252.89 L378.87 252.97 L379.37 253.05 L379.87 253.13 L380.37 253.21 L380.87 253.28 L381.37 253.36 L381.86 253.43 L382.36 253.50 L382.86 253.57 L383.36 253.64 L383.86 253.71 L384.36 253.77 L384.86 253.83 L385.36 253.89 L385.86 253.95 L386.36 254.01 L386.85 254.06 L387.35 254.12 L387.85 254.17 L388.35 254.21 L388.85 254.26 L389.35 254.30 L389.85 254.33 L390.35 254.37 L390.85 254.41 L391.35 254.45 L391.84 254.49 L392.34 254.53 L392.84 254.56 L393.34 254.60 L393.84 254.63 L394.34 254.67 L394.84 254.70 L395.34 254.73 L395.84 254.76 L396.34 254.79 L396.83 254.82 L397.33 254.85 L397.83 254.87 L398.33 254.90 L398.83 254.92 L399.33 254.94 L399.83 254.95 L400.33 254.97 L400.83 254.98 L401.33 254.99 L401.82 255.00 L402.32 255.00 L402.82 255.01 L403.32 255.01 L403.82 255.02 L404.32 255.02 L404.82 255.03 L405.32 255.03 L405.82 255.04 L406.32 255.04 L406.81 255.05 L407.31 255.05 L407.81 255.05 L408.31 255.06 L408.81 255.06 L409.31 255.06 L409.81 255.07 L410.31 255.07 L410.81 255.07 L411.31 255.08 L411.80 255.08 L412.30 255.08 L412.80 255.08 L413.30 255.09 L413.80 255.09 L414.30 255.09 L414.80 255.09 L415.30 255.09 L415.80 255.09 L416.30 255.10 L416.79 255.10 L417.29 255.10 L417.79 255.10 L418.29 255.10 L418.79 255.10 L419.29 255.10 L419.79 255.10 L420.29 255.10 L420.79 255.10 L421.29 255.10 L421.78 255.10 L422.28 255.10 L422.78 255.10 L423.28 255.10 L423.78 255.10 L424.28 255.10 L424.78 255.10 L425.28 255.10 L425.78 255.10 L426.28 255.10 L426.77 255.10 L427.27 255.10 L427.77 255.10 L428.27 255.10 L428.77 255.10 L429.27 255.10 L429.77 255.10 L430.27 255.10 L430.77 255.10 L431.27 255.10 L431.76 255.10 L432.26 255.10 L432.76 255.10 L433.26 255.10 L433.76 255.10 L434.26 255.10 L434.76 255.10 L435.26 255.10 L435.76 255.10 L436.26 255.10 L436.75 255.10 L437.25 255.10 L437.75 255.10 L438.25 255.10 L438.75 255.10 L439.25 255.10 L439.75 255.10 L440.25 255.10 L440.75 255.10 L441.25 255.10 L441.74 255.10 L442.24 255.10 L442.74 255.10 L443.24 255.10 L443.74 255.10 L444.24 255.10 L444.74 255.10 L445.24 255.10 L445.74 255.10 L446.24 255.10 L446.73 255.10 L447.23 255.10 L447.73 255.10 L448.23 255.10 L448.73 255.10 L449.23 255.10 L449.73 255.10 L450.23 255.10 L450.73 255.10 L451.23 255.10 L451.72 255.10 L452.22 255.10 L452.72 255.10 L453.22 255.10 L453.72 255.10 L454.22 255.10 L454.72 255.10 L455.22 255.10 L455.72 255.10 L456.22 255.10 L456.71 255.10 L457.21 255.10 L457.71 255.10 L458.21 255.10 L458.71 255.10 L459.21 255.10 L459.71 255.10 L460.21 255.10 L460.71 255.10 L461.21 255.10 L461.70 255.10 L462.20 255.10 L462.70 255.10 L463.20 255.10 L463.70 255.10" stroke="#000000" stroke-dasharray="7.4 3.7"/>
<path d="M314.50 232.98 L315.00 233.11 L315.50 233.24 L316.00 233.37 L316.50 233.50 L316.99 233.63 L317.49 233.77 L317.99 233.90 L318.49 234.03 L318.99 234.16 L319.49 234.29 L319.99 234.43 L320.49 234.56 L320.99 234.69 L321.49 234.83 L321.98 234.96 L322.48 235.10 L322.98 235.23 L323.48 235.37 L323.98 235.51 L324.48 235.64 L324.98 235.78 L325.48 235.92 L325.98 236.05 L326.48 236.19 L326.97 236.33 L327.47 236.47 L327.97 236.61 L328.47 236.75 L328.97 236.89 L329.47 237.03 L329.97 237.17 L330.47 237.31 L330.97 237.45 L331.47 237.59 L331.96 237.73 L332.46 237.87 L332.96 238.01 L333.46 238.16 L333.96 238.30 L334.46 238.44 L334.96 238.59 L335.46 238.73 L335.96 238.88 L336.46 239.02 L336.95 239.17 L337.45 239.31 L337.95 239.46 L338.45 239.61 L338.95 239.75 L339.45 239.90 L339.95 240.05 L340.45 240.20 L340.95 240.35 L341.45 240.50 L341.94 240.65 L342.44 240.80 L342.94 240.96 L343.44 241.11 L343.94 241.27 L344.44 241.43 L344.94 241.58 L345.44 241.74 L345.94 241.90 L346.44 242.07 L346.93 242.23 L347.43 242.39 L347.93 242.55 L348.43 242.71 L348.93 242.88 L349.43 243.04 L349.93 243.20 L350.43 243.37 L350.93 243.53 L351.43 243.69 L351.92 243.86 L352.42 244.02 L352.92 244.18 L353.42 244.34 L353.92 244.50 L354.42 244.66 L354.92 244.82 L355.42 244.98 L355.92 245.13 L356.42 245.29 L356.91 245.44 L357.41 245.59 L357.91 245.74 L358.41 245.89 L358.91 246.04 L359.41 246.19 L359.91 246.34 L360.41 246.49 L360.91 246.64 L361.41 246.79 L361.90 246.94 L362.40 247.09 L362.90 247.23 L363.40 247.38 L363.90 247.53 L364.40 247.68 L364.90 247.82 L365.40 247.97 L365.90 248.11 L366.40 248.25 L366.89 248.40 L367.39 248.54 L367.89 248.68 L368.39 248.82 L368.89 248.95 L369.39 249.09 L369.89 249.23 L370.39 249.36 L370.89 249.49 L371.39 249.62 L371.88 249.75 L372.38 249.88 L372.88 250.00 L373.38 250.13 L373.88 250.25 L374.38 250.37 L374.88 250.49 L375.38 250.61 L375.88 250.73 L376.38 250.85 L376.87 250.97 L377.37 251.09 L377.87 251.21 L378.37 251.32 L378.87 251.44 L379.37 251.56 L379.87 251.67 L380.37 251.79 L380.87 251.90 L381.37 252.01 L381.86 252.12 L382.36 252.23 L382.86 252.34 L383.36 252.44 L383.86 252.54 L384.36 252.64 L384.86 252.74 L385.36 252.84 L385.86 252.93 L386.36 253.02 L386.85 253.11 L387.35 253.19 L387.85 253.27 L388.35 253.35 L388.85 253.42 L389.35 253.49 L389.85 253.56 L390.35 253.63 L390.85 253.70 L391.35 253.77 L391.84 253.83 L392.34 253.90 L392.84 253.97 L393.34 254.03 L393.84 254.09 L394.34 254.16 L394.84 254.22 L395.34 254.28 L395.84 254.33 L396.34 254.39 L396.83 254.44 L397.33 254.49 L397.83 254.54 L398.33 254.58 L398.83 254.62 L399.33 254.66 L399.83 254.70 L400.33 254.73 L400.83 254.75 L401.33 254.78 L401.82 254.79 L402.32 254.81 L402.82 254.82 L403.32 254.84 L403.82 254.85 L404.32 254.87 L404.82 254.88 L405.32 254.89 L405.82 254.91 L406.32 254.92 L406.81 254.93 L407.31 254.94 L407.81 254.95 L408.31 254.96 L408.81 254.98 L409.31 254.99 L409.81 255.00 L410.31 255.00 L410.81 255.01 L411.31 255.02 L411.80 255.03 L412.30 255.04 L412.80 255.05 L413.30 255.05 L413.80 255.06 L414.30 255.07 L414.80 255.07 L415.30 255.08 L415.80 255.08 L416.30 255.09 L416.79 255.09 L417.29 255.09 L417.79 255.09 L418.29 255.10 L418.79 255.10 L419.29 255.10 L419.79 255.10 L420.29 255.10 L420.79 255.10 L421.29 255.10 L421.78 255.10 L422.28 255.10 L422.78 255.10 L423.28 255.10 L423.78 255.10 L424.28 255.10 L424.78 255.10 L425.28 255.10 L425.78 255.10 L426.28 255.10 L426.77 255.10 L427.27 255.10 L427.77 255.10 L428.27 255.10 L428.77 255.10 L429.27 255.10 L429.77 255.10 L430.27 255.10 L430.77 255.10 L431.27 255.10 L431.76 255.10 L432.26 255.10 L432.76 255.10 L433.26 255.10 L433.76 255.10 L434.26 255.10 L434.76 255.10 L435.26 255.10 L435.76 255.10 L436.26 255.10 L436.75 255.10 L437.25 255.10 L437.75 255.10 L438.25 255.10 L438.75 255.10 L439.25 255.10 L439.75 255.10 L440.25 255.10 L440.75 255.10 L441.25 255.10 L441.74 255.10 L442.24 255.10 L442.74 255.10 L443.24 255.10 L443.74 255.10 L444.24 255.10 L444.74 255.10 L445.24 255.10 L445.74 255.10 L446.24 255.10 L446.73 255.10 L447.23 255.10 L447.73 255.10 L448.23 255.10 L448.73 255.10 L449.23 255.10 L449.73 255.10 L450.23 255.10 L450.73 255.10 L451.23 255.10 L451.72 255.10 L452.22 255.10 L452.72 255.10 L453.22 255.10 L453.72 255.10 L454.22 255.10 L454.72 255.10 L455.22 255.10 L455.72 255.10 L456.22 255.10 L456.71 255.10 L457.21 255.10 L457.71 255.10 L458.21 255.10 L458.71 255.10 L459.21 255.10 L459.71 255.10 L460.21 255.10 L460.71 255.10 L461.21 255.10 L461.70 255.10 L462.20 255.10 L462.70 255.10 L463.20 255.10 L463.70 255.10" stroke="#000000"/>
<path d="M314.50 249.59 L315.00 249.65 L315.50 249.72 L316.00 249.79 L316.50 249.85 L316.99 249.92 L317.49 249.98 L317.99 250.05 L318.49 250.11 L318.99 250.18 L319.49 250.24 L319.99 250.30 L320.49 250.37 L320.99 250.43 L321.49 250.49 L321.98 250.55 L322.48 250.61 L322.98 250.68 L323.48 250.74 L323.98 250.80 L324.48 250.86 L324.98 250.92 L325.48 250.98 L325.98 251.04 L326.48 251.10 L326.97 251.16 L327.47 251.22 L327.97 251.27 L328.47 251.33 L328.97 251.39 L329.47 251.45 L329.97 251.51 L330.47 251.56 L330.97 251.62 L331.47 251.68 L331.96 251.73 L332.46 251.79 L332.96 251.85 L333.46 251.90 L333.96 251.96 L334.46 252.01 L334.96 252.07 L335.46 252.13 L335.96 252.18 L336.46 252.24 L336.95 252.29 L337.45 252.34 L337.95 252.40 L338.45 252.45 L338.95 252.50 L339.45 252.55 L339.95 252.60 L340.45 252.65 L340.95 252.69 L341.45 252.74 L341.94 252.79 L342.44 252.83 L342.94 252.87 L343.44 252.92 L343.94 252.96 L344.44 253.01 L344.94 253.05 L345.44 253.09 L345.94 253.14 L346.44 253.18 L346.93 253.22 L347.43 253.26 L347.93 253.30 L348.43 253.34 L348.93 253.39 L349.43 253.42 L349.93 253.46 L350.43 253.50 L350.93 253.54 L351.43 253.58 L351.92 253.62 L352.42 253.65 L352.92 253.69 L353.42 253.72 L353.92 253.75 L354.42 253.79 L354.92 253.82 L355.42 253.85 L355.92 253.88 L356.42 253.91 L356.91 253.94 L357.41 253.96 L357.91 253.99 L358.41 254.02 L358.91 254.04 L359.41 254.06 L359.91 254.09 L360.41 254.11 L360.91 254.13 L361.41 254.16 L361.90 254.18 L362.40 254.20 L362.90 254.22 L363.40 254.24 L363.90 254.26 L364.40 254.28 L364.90 254.30 L365.40 254.32 L365.90 254.34 L366.40 254.36 L366.89 254.38 L367.39 254.40 L367.89 254.41 L368.39 254.43 L368.89 254.45 L369.39 254.46 L369.89 254.48 L370.39 254.49 L370.89 254.51 L371.39 254.53 L371.88 254.54 L372.38 254.55 L372.88 254.57 L373.38 254.58 L373.88 254.59 L374.38 254.61 L374.88 254.62 L375.38 254.63 L375.88 254.64 L376.38 254.66 L376.87 254.67 L377.37 254.68 L377.87 254.69 L378.37 254.71 L378.87 254.72 L379.37 254.73 L379.87 254.74 L380.37 254.75 L380.87 254.76 L381.37 254.77 L381.86 254.78 L382.36 254.79 L382.86 254.80 L383.36 254.81 L383.86 254.82 L384.36 254.83 L384.86 254.84 L385.36 254.85 L385.86 254.85 L386.36 254.86 L386.85 254.87 L387.35 254.88 L387.85 254.88 L388.35 254.89 L388.85 254.89 L389.35 254.90 L389.85 254.90 L390.35 254.91 L390.85 254.91 L391.35 254.92 L391.84 254.93 L392.34 254.93 L392.84 254.94 L393.34 254.94 L393.84 254.95 L394.34 254.95 L394.84 254.95 L395.34 254.96 L395.84 254.96 L396.34 254.97 L396.83 254.97 L397.33 254.98 L397.83 254.98 L398.33 254.99 L398.83 254.99 L399.33 255.00 L399.83 255.00 L400.33 255.01 L400.83 255.01 L401.33 255.01 L401.82 255.02 L402.32 255.02 L402.82 255.03 L403.32 255.03 L403.82 255.03 L404.32 255.04 L404.82 255.04 L405.32 255.04 L405.82 255.05 L406.32 255.05 L406.81 255.05 L407.31 255.06 L407.81 255.06 L408.31 255.06 L408.81 255.07 L409.31 255.07 L409.81 255.07 L410.31 255.07 L410.81 255.08 L411.31 255.08 L411.80 255.08 L412.30 255.08 L412.80 255.09 L413.30 255.09 L413.80 255.09 L414.30 255.09 L414.80 255.09 L415.30 255.09 L415.80 255.09 L416.30 255.10 L416.79 255.10 L417.29 255.10 L417.79 255.10 L418.29 255.10 L418.79 255.10 L419.29 255.10 L419.79 255.10 L420.29 255.10 L420.79 255.10 L421.29 255.10 L421.78 255.10 L422.28 255.10 L422.78 255.10 L423.28 255.10 L423.78 255.10 L424.28 255.10 L424.78 255.10 L425.28 255.10 L425.78 255.10 L426.28 255.10 L426.77 255.10 L427.27 255.10 L427.77 255.10 L428.27 255.10 L428.77 255.10 L429.27 255.10 L429.77 255.10 L430.27 255.10 L430.77 255.10 L431.27 255.10 L431.76 255.10 L432.26 255.10 L432.76 255.10 L433.26 255.10 L433.76 255.10 L434.26 255.10 L434.76 255.10 L435.26 255.10 L435.76 255.10 L436.26 255.10 L436.75 255.10 L437.25 255.10 L437.75 255.10 L438.25 255.10 L438.75 255.10 L439.25 255.10 L439.75 255.10 L440.25 255.10 L440.75 255.10 L441.25 255.10 L441.74 255.10 L442.24 255.10 L442.74 255.10 L443.24 255.10 L443.74 255.10 L444.24 255.10 L444.74 255.10 L445.24 255.10 L445.74 255.10 L446.24 255.10 L446.73 255.10 L447.23 255.10 L447.73 255.10 L448.23 255.10 L448.73 255.10 L449.23 255.10 L449.73 255.10 L450.23 255.10 L450.73 255.10 L451.23 255.10 L451.72 255.10 L452.22 255.10 L452.72 255.10 L453.22 255.10 L453.72 255.10 L454.22 255.10 L454.72 255.10 L455.22 255.10 L455.72 255.10 L456.22 255.10 L456.71 255.10 L457.21 255.10 L457.71 255.10 L458.21 255.10 L458.71 255.10 L459.21 255.10 L459.71 255.10 L460.21 255.10 L460.71 255.10 L461.21 255.10 L461.70 255.10 L462.20 255.10 L462.70 255.10 L463.20 255.10 L463.70 255.10" stroke="#a020f0"/>
</g>
<path d="M314.50 255.10H463.70" stroke="#000" stroke-width="0.9" stroke-dasharray="1 1.3" fill="none"/>
<!-- ticks -->
<path d="M64.90 354.60V349.60M64.90 11.90V16.90M90.11 354.60V352.20M90.11 11.90V14.30M104.86 354.60V352.20M104.86 11.90V14.30M115.33 354.60V352.20M115.33 11.90V14.30M123.45 354.60V352.20M123.45 11.90V14.30M130.08 354.60V352.20M130.08 11.90V14.30M135.69 354.60V352.20M135.69 11.90V14.30M140.54 354.60V352.20M140.54 11.90V14.30M144.83 354.60V352.20M144.83 11.90V14.30M148.66 354.60V349.60M148.66 11.90V16.90M173.87 354.60V352.20M173.87 11.90V14.30M188.62 354.60V352.20M188.62 11.90V14.30M199.09 354.60V352.20M199.09 11.90V14.30M207.21 354.60V352.20M207.21 11.90V14.30M213.84 354.60V352.20M213.84 11.90V14.30M219.45 354.60V352.20M219.45 11.90V14.30M224.30 354.60V352.20M224.30 11.90V14.30M228.59 354.60V352.20M228.59 11.90V14.30M232.42 354.60V349.60M232.42 11.90V16.90M257.63 354.60V352.20M257.63 11.90V14.30M272.38 354.60V352.20M272.38 11.90V14.30M282.85 354.60V352.20M282.85 11.90V14.30M290.97 354.60V352.20M290.97 11.90V14.30M297.60 354.60V352.20M297.60 11.90V14.30M303.21 354.60V352.20M303.21 11.90V14.30M308.06 354.60V352.20M308.06 11.90V14.30M312.35 354.60V352.20M312.35 11.90V14.30M316.18 354.60V349.60M316.18 11.90V16.90M341.39 354.60V352.20M341.39 11.90V14.30M356.14 354.60V352.20M356.14 11.90V14.30M366.61 354.60V352.20M366.61 11.90V14.30M374.73 354.60V352.20M374.73 11.90V14.30M381.36 354.60V352.20M381.36 11.90V14.30M386.97 354.60V352.20M386.97 11.90V14.30M391.82 354.60V352.20M391.82 11.90V14.30M396.11 354.60V352.20M396.11 11.90V14.30M399.94 354.60V349.60M399.94 11.90V16.90M425.15 354.60V352.20M425.15 11.90V14.30M439.90 354.60V352.20M439.90 11.90V14.30M450.37 354.60V352.20M450.37 11.90V14.30M458.49 354.60V352.20M458.49 11.90V14.30M465.12 354.60V352.20M465.12 11.90V14.30M470.73 354.60V352.20M470.73 11.90V14.30M475.58 354.60V352.20M475.58 11.90V14.30M479.87 354.60V352.20M479.87 11.90V14.30M483.70 354.60V349.60M483.70 11.90V16.90M64.90 333.86H69.90M483.70 333.86H478.70M64.90 292.32H69.90M483.70 292.32H478.70M64.90 250.78H69.90M483.70 250.78H478.70M64.90 209.24H69.90M483.70 209.24H478.70M64.90 167.70H69.90M483.70 167.70H478.70M64.90 126.16H69.90M483.70 126.16H478.70M64.90 84.62H69.90M483.70 84.62H478.70M64.90 43.08H69.90M483.70 43.08H478.70M314.50 326.20V323.80M314.50 219.60V222.00M323.58 326.20V323.80M323.58 219.60V222.00M331.26 326.20V323.80M331.26 219.60V222.00M337.91 326.20V323.80M337.91 219.60V222.00M343.77 326.20V323.80M343.77 219.60V222.00M349.02 326.20V321.20M349.02 219.60V224.60M383.54 326.20V323.80M383.54 219.60V222.00M403.74 326.20V323.80M403.74 219.60V222.00M418.06 326.20V323.80M418.06 219.60V222.00M429.18 326.20V323.80M429.18 219.60V222.00M438.26 326.20V323.80M438.26 219.60V222.00M445.94 326.20V323.80M445.94 219.60V222.00M452.59 326.20V323.80M452.59 219.60V222.00M458.45 326.20V323.80M458.45 219.60V222.00M463.70 326.20V321.20M463.70 219.60V224.60M314.50 326.17H319.50M463.70 326.17H458.70M314.50 290.63H319.50M463.70 290.63H458.70M314.50 255.10H319.50M463.70 255.10H458.70M314.50 219.57H319.50M463.70 219.57H458.70" stroke="#000" stroke-width="1.5" fill="none"/>
<!-- frames -->
<rect x="64.90" y="11.90" width="418.80" height="342.70" fill="none" stroke="#000" stroke-width="2.3"/>
<rect x="314.50" y="219.60" width="149.20" height="106.60" fill="none" stroke="#000" stroke-width="2.3"/>
</svg>
<svg class="txt" width="499" height="399" viewBox="0 0 499 399">
<g>
<text transform="translate(55.30 337.96) scale(0.935 1)" font-size="14.4" text-anchor="end">-0.08</text>
<text transform="translate(55.30 296.42) scale(0.935 1)" font-size="14.4" text-anchor="end">-0.06</text>
<text transform="translate(55.30 254.88) scale(0.935 1)" font-size="14.4" text-anchor="end">-0.04</text>
<text transform="translate(55.30 213.34) scale(0.935 1)" font-size="14.4" text-anchor="end">-0.02</text>
<text transform="translate(55.30 171.80) scale(0.935 1)" font-size="14.4" text-anchor="end">0</text>
<text transform="translate(55.30 130.26) scale(0.935 1)" font-size="14.4" text-anchor="end">0.02</text>
<text transform="translate(55.30 88.72) scale(0.935 1)" font-size="14.4" text-anchor="end">0.04</text>
<text transform="translate(55.30 47.18) scale(0.935 1)" font-size="14.4" text-anchor="end">0.06</text>
<text transform="translate(305.70 223.30) scale(0.940 1)" font-size="14.4" text-anchor="end">0.001</text>
<text transform="translate(305.70 259.50) scale(0.940 1)" font-size="14.4" text-anchor="end">0</text>
<text transform="translate(305.70 295.00) scale(0.940 1)" font-size="14.4" text-anchor="end">-0.001</text>
<text transform="translate(305.70 331.30) scale(0.940 1)" font-size="14.4" text-anchor="end">-0.002</text>
<text x="50.40" y="373.40" font-size="13.4">10</text><path d="M66.10 365.60H72.70" stroke="#1a1a1a" stroke-width="0.9" fill="none"/><text x="73.50" y="368.90" font-size="10.2">5</text>
<text x="134.16" y="373.40" font-size="13.4">10</text><path d="M149.86 365.60H156.46" stroke="#1a1a1a" stroke-width="0.9" fill="none"/><text x="157.26" y="368.90" font-size="10.2">4</text>
<text x="217.92" y="373.40" font-size="13.4">10</text><path d="M233.62 365.60H240.22" stroke="#1a1a1a" stroke-width="0.9" fill="none"/><text x="241.02" y="368.90" font-size="10.2">3</text>
<text x="301.68" y="373.40" font-size="13.4">10</text><path d="M317.38 365.60H323.98" stroke="#1a1a1a" stroke-width="0.9" fill="none"/><text x="324.78" y="368.90" font-size="10.2">2</text>
<text x="385.44" y="373.40" font-size="13.4">10</text><path d="M401.14 365.60H407.74" stroke="#1a1a1a" stroke-width="0.9" fill="none"/><text x="408.54" y="368.90" font-size="10.2">1</text>
<text x="483.40" y="373.4" font-size="13.4" text-anchor="middle">1</text>
<text x="334.52" y="345.30" font-size="13.4">10</text><path d="M350.22 337.50H356.82" stroke="#1a1a1a" stroke-width="0.9" fill="none"/><text x="357.62" y="340.80" font-size="10.2">1</text>
<text x="463.60" y="345.3" font-size="13.4" text-anchor="middle">1</text>
<text x="274.6" y="395.8" font-size="14.4" font-style="italic" text-anchor="middle">x</text>
<g transform="translate(16.2 201.4) rotate(-90)"><text x="0" y="0" font-size="14.6" font-style="italic">F</text><text x="7.4" y="4.2" font-size="10.4">2</text><text x="9.0" y="-8.6" font-size="9.8" textLength="27.0" lengthAdjust="spacingAndGlyphs">heavy</text></g>
<text x="376.40" y="32.0" font-size="15.4" font-style="italic" style="font-family:'Liberation Serif',serif">α</text><text x="385.70" y="35.0" font-size="11.4" font-style="italic" style="font-family:'Liberation Serif',serif">s</text>
<text x="416.00" y="32.0" font-size="15.4" font-style="italic" style="font-family:'Liberation Serif',serif">α</text><text x="425.30" y="35.0" font-size="11.4" font-style="italic" style="font-family:'Liberation Serif',serif">s</text><text x="426.50" y="26.5" font-size="9.2">2</text>
<text x="451.20" y="32.0" font-size="15.4" font-style="italic" style="font-family:'Liberation Serif',serif">α</text><text x="460.50" y="35.0" font-size="11.4" font-style="italic" style="font-family:'Liberation Serif',serif">s</text><text x="461.70" y="26.5" font-size="9.2">3</text>
<path d="M343.6 53.60L348.8 39.60" stroke="#1a1a1a" stroke-width="1.0" fill="none"/><text x="350.2" y="51.60" font-size="13.8" textLength="14.0" lengthAdjust="spacingAndGlyphs">20</text><text x="326.00" y="54.30" font-size="9.8" font-style="italic" textLength="14.6" lengthAdjust="spacing">g,2</text><text x="326.90" y="43.80" font-size="9.8">S</text><text x="316.80" y="51.50" font-size="14.8" font-style="italic" textLength="9.2" lengthAdjust="spacingAndGlyphs">H</text>
<text x="348.60" y="74.30" font-size="9.8" font-style="italic" textLength="14.2" lengthAdjust="spacing">q,2</text><text x="349.50" y="63.80" font-size="9.8">PS</text><text x="339.40" y="71.50" font-size="14.8" font-style="italic" textLength="9.2" lengthAdjust="spacingAndGlyphs">H</text>
<text x="348.60" y="94.20" font-size="9.8" font-style="italic" textLength="14.2" lengthAdjust="spacing">q,2</text><text x="349.50" y="83.70" font-size="9.8">NS</text><text x="341.80" y="91.40" font-size="14.8" font-style="italic" textLength="6.4" lengthAdjust="spacingAndGlyphs">L</text>
<text x="348.60" y="114.10" font-size="9.8" font-style="italic" textLength="14.6" lengthAdjust="spacing">g,2</text><text x="349.50" y="103.60" font-size="9.8">S</text><text x="341.80" y="111.30" font-size="14.8" font-style="italic" textLength="6.4" lengthAdjust="spacingAndGlyphs">L</text>
<text x="348.60" y="134.10" font-size="9.8" font-style="italic" textLength="14.2" lengthAdjust="spacing">q,2</text><text x="349.50" y="123.60" font-size="9.8">PS</text><text x="341.80" y="131.30" font-size="14.8" font-style="italic" textLength="6.4" lengthAdjust="spacingAndGlyphs">L</text>
</g>
</svg>
</body>
</html>
